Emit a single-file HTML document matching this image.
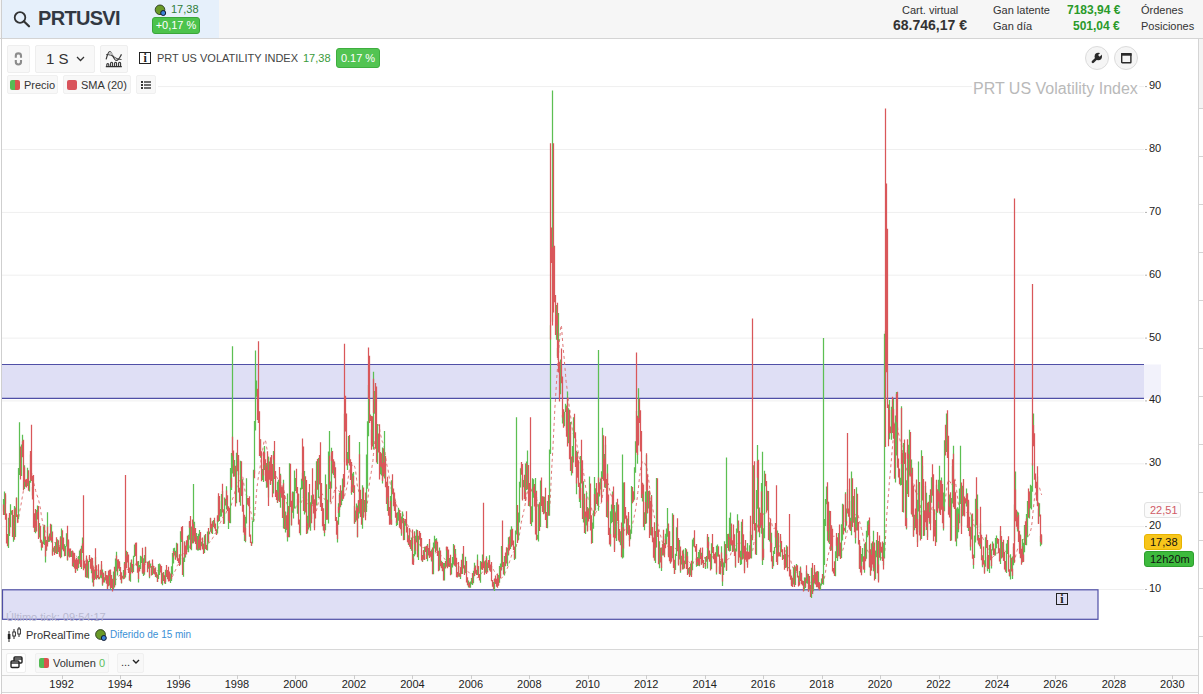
<!DOCTYPE html>
<html><head><meta charset="utf-8">
<style>
*{box-sizing:border-box;margin:0;padding:0}
html,body{width:1203px;height:694px;overflow:hidden;background:#fff;font-family:"Liberation Sans",sans-serif;color:#333}
.abs{position:absolute}
#hdr{position:absolute;left:0;top:0;width:1203px;height:39px;background:#f6f6f6;border-bottom:1px solid #d4d4d4}
#sym{position:absolute;left:2px;top:0;width:217px;height:38px;background:#e6f0fb}
.t{position:absolute;white-space:nowrap;line-height:1}
.btn{position:absolute;background:#f8f8f8;border:1px solid #eeeeee;border-radius:2px}
.chip{position:absolute;background:#f8f8f8;border:1px solid #f0f0f0;border-radius:2px}
.yl{position:absolute;left:1149px;font-size:11px;color:#222;line-height:14px}
.xl{position:absolute;top:677px;width:40px;text-align:center;font-size:11px;color:#222;line-height:14px}
.xt{position:absolute;top:675px;width:1px;height:4px;background:#ccc}
.circ{position:absolute;width:24px;height:24px;border-radius:50%;background:#f5f5f5;border:1px solid #dcdcdc}
.tag{position:absolute;left:1144px;height:16px;border-radius:3px;font-size:11px;line-height:15px;padding-left:5px;color:#111}
</style></head><body>
<div id="hdr"></div>
<div id="sym"></div>
<!-- search icon -->
<svg class="abs" style="left:12px;top:10px" width="20" height="18" viewBox="0 0 20 18"><circle cx="8" cy="7.5" r="5.3" fill="none" stroke="#333" stroke-width="1.8"/><line x1="11.8" y1="11.3" x2="17" y2="16.3" stroke="#333" stroke-width="2.2" stroke-linecap="round"/></svg>
<div class="t" style="left:38px;top:8px;font-size:20px;font-weight:bold;color:#323842;letter-spacing:-0.7px">PRTUSVI</div>
<svg class="abs" style="left:154px;top:3px" width="14" height="14"><circle cx="6" cy="6.8" r="4.8" fill="#6a9a28" stroke="#2a3a20" stroke-width="0.9"/><circle cx="9.2" cy="10" r="2.5" fill="#3b82d6" stroke="#111a30" stroke-width="1"/></svg>
<div class="t" style="left:171px;top:4px;font-size:11px;color:#2f7d3a">17,38</div>
<div class="abs" style="left:152px;top:17px;width:48px;height:17px;background:#4cc34c;border:1px solid #3aa63a;border-radius:3px;color:#fff;font-size:11px;line-height:15px;text-align:center">+0,17 %</div>

<div class="t" style="left:902px;top:5px;font-size:11px;color:#333">Cart. virtual</div>
<div class="t" style="left:893px;top:18px;font-size:14px;font-weight:bold;color:#333">68.746,17 €</div>
<div class="t" style="left:993px;top:5px;font-size:11px;color:#333">Gan latente</div>
<div class="t" style="left:993px;top:21px;font-size:11px;color:#333">Gan día</div>
<div class="t" style="left:1067px;top:4px;font-size:12px;font-weight:bold;color:#2a9a2a">7183,94 €</div>
<div class="t" style="left:1073px;top:20px;font-size:12px;font-weight:bold;color:#2a9a2a">501,04 €</div>
<div class="t" style="left:1141px;top:5px;font-size:11px;color:#333">Órdenes</div>
<div class="t" style="left:1141px;top:21px;font-size:11px;color:#333">Posiciones</div>

<!-- left border -->
<div class="abs" style="left:1px;top:0px;width:1px;height:694px;background:#cfcfcf"></div>
<!-- right border -->
<div class="abs" style="left:1198px;top:39px;width:1px;height:655px;background:#d4d4d4"></div>
<div class="abs" style="left:1199px;top:39px;width:4px;height:69px;background:#f4f4f4"></div><div class="abs" style="left:1199px;top:108px;width:4px;height:1px;background:#d4d4d4"></div><div class="abs" style="left:1199px;top:156px;width:4px;height:1px;background:#d4d4d4"></div><div class="abs" style="left:1199px;top:204px;width:4px;height:1px;background:#d4d4d4"></div><div class="abs" style="left:1199px;top:252px;width:4px;height:1px;background:#d4d4d4"></div><div class="abs" style="left:1199px;top:300px;width:4px;height:1px;background:#d4d4d4"></div><div class="abs" style="left:1199px;top:348px;width:4px;height:1px;background:#d4d4d4"></div><div class="abs" style="left:1199px;top:396px;width:4px;height:1px;background:#d4d4d4"></div><div class="abs" style="left:1199px;top:444px;width:4px;height:1px;background:#d4d4d4"></div><div class="abs" style="left:1199px;top:492px;width:4px;height:1px;background:#d4d4d4"></div><div class="abs" style="left:1199px;top:540px;width:4px;height:1px;background:#d4d4d4"></div><div class="abs" style="left:1199px;top:588px;width:4px;height:1px;background:#d4d4d4"></div><div class="abs" style="left:1199px;top:636px;width:4px;height:1px;background:#d4d4d4"></div>

<!-- chart svg -->
<svg class="abs" style="left:0;top:0" width="1203" height="694">
<line x1="2" x2="1144" y1="589.5" y2="589.5" stroke="#efefef" stroke-width="1"/><line x1="2" x2="1144" y1="526.6" y2="526.6" stroke="#efefef" stroke-width="1"/><line x1="2" x2="1144" y1="463.8" y2="463.8" stroke="#efefef" stroke-width="1"/><line x1="2" x2="1144" y1="400.9" y2="400.9" stroke="#efefef" stroke-width="1"/><line x1="2" x2="1144" y1="338.1" y2="338.1" stroke="#efefef" stroke-width="1"/><line x1="2" x2="1144" y1="275.2" y2="275.2" stroke="#efefef" stroke-width="1"/><line x1="2" x2="1144" y1="212.4" y2="212.4" stroke="#efefef" stroke-width="1"/><line x1="2" x2="1144" y1="149.5" y2="149.5" stroke="#efefef" stroke-width="1"/><line x1="2" x2="1144" y1="86.6" y2="86.6" stroke="#efefef" stroke-width="1"/>
<line x1="1145" x2="1147" y1="589.5" y2="589.5" stroke="#b0b0b0" stroke-width="1"/><line x1="1145" x2="1147" y1="526.6" y2="526.6" stroke="#b0b0b0" stroke-width="1"/><line x1="1145" x2="1147" y1="463.8" y2="463.8" stroke="#b0b0b0" stroke-width="1"/><line x1="1145" x2="1147" y1="400.9" y2="400.9" stroke="#b0b0b0" stroke-width="1"/><line x1="1145" x2="1147" y1="338.1" y2="338.1" stroke="#b0b0b0" stroke-width="1"/><line x1="1145" x2="1147" y1="275.2" y2="275.2" stroke="#b0b0b0" stroke-width="1"/><line x1="1145" x2="1147" y1="212.4" y2="212.4" stroke="#b0b0b0" stroke-width="1"/><line x1="1145" x2="1147" y1="149.5" y2="149.5" stroke="#b0b0b0" stroke-width="1"/><line x1="1145" x2="1147" y1="86.6" y2="86.6" stroke="#b0b0b0" stroke-width="1"/>
<rect x="2" y="364.5" width="1142" height="34" fill="#dfdff5"/>
<rect x="1144" y="364.5" width="17" height="34" fill="#f2f2fb"/>
<line x1="2" x2="1144" y1="364.5" y2="364.5" stroke="#4f4fa6" stroke-width="1.2"/>
<line x1="2" x2="1144" y1="398.3" y2="398.3" stroke="#4f4fa6" stroke-width="1.2"/>
<rect x="2.5" y="589.8" width="1095.5" height="29.5" fill="#dfdff5" stroke="#4f4fa6" stroke-width="1.2"/>
<polyline points="13.8,522.1 14.3,522.1 14.9,523.1 15.5,523.5 16.0,523.6 16.6,524.5 17.1,524.5 17.7,523.5 18.3,520.4 18.8,516.9 19.4,513.4 19.9,510.3 20.5,507.3 21.1,504.3 21.6,501.2 22.2,497.8 22.7,494.7 23.3,491.5 23.9,489.1 24.4,486.3 25.0,484.3 25.5,483.0 26.1,480.5 26.7,478.9 27.2,478.0 27.8,475.9 28.3,474.2 28.9,472.6 29.5,472.5 30.0,471.7 30.6,472.4 31.1,473.0 31.7,473.2 32.3,474.6 32.8,476.6 33.4,479.6 33.9,483.3 34.5,486.5 35.1,487.9 35.6,490.5 36.2,492.8 36.8,494.4 37.3,496.0 37.9,497.4 38.4,498.9 39.0,501.9 39.6,504.3 40.1,507.0 40.7,510.0 41.2,514.4 41.8,517.7 42.4,521.2 42.9,524.4 43.5,526.5 44.0,528.2 44.6,530.0 45.2,531.6 45.7,532.1 46.3,533.9 46.8,534.9 47.4,534.9 48.0,536.3 48.5,537.3 49.1,538.8 49.6,539.9 50.2,540.0 50.8,540.4 51.3,540.3 51.9,539.9 52.4,540.2 53.0,540.6 53.6,540.8 54.1,541.1 54.7,542.0 55.2,543.1 55.8,543.5 56.4,543.2 56.9,543.7 57.5,543.3 58.0,543.6 58.6,544.8 59.2,545.4 59.7,545.9 60.3,546.1 60.8,547.2 61.4,548.0 62.0,547.9 62.5,548.3 63.1,548.9 63.6,548.8 64.2,548.7 64.8,549.1 65.3,549.0 65.9,548.7 66.4,547.9 67.0,548.5 67.6,548.7 68.1,548.2 68.7,548.6 69.2,548.9 69.8,549.1 70.4,549.1 70.9,549.4 71.5,549.8 72.0,550.1 72.6,550.8 73.2,551.8 73.7,552.5 74.3,553.5 74.8,554.1 75.4,555.1 76.0,555.4 76.5,556.5 77.1,557.4 77.6,559.1 78.2,559.2 78.8,559.7 79.3,560.3 79.9,560.4 80.4,560.9 81.0,561.5 81.6,561.2 82.1,560.9 82.7,560.7 83.2,560.0 83.8,560.0 84.4,560.2 84.9,560.5 85.5,560.9 86.0,561.0 86.6,560.7 87.2,560.8 87.7,561.2 88.3,561.7 88.8,561.3 89.4,561.2 90.0,561.0 90.5,561.5 91.1,562.4 91.6,562.6 92.2,563.1 92.8,564.2 93.3,565.9 93.9,567.1 94.4,568.6 95.0,568.3 95.6,568.6 96.1,569.1 96.7,569.2 97.2,569.9 97.8,570.5 98.4,571.0 98.9,571.0 99.5,571.2 100.1,571.7 100.6,572.6 101.2,573.0 101.7,573.3 102.3,574.0 102.9,574.3 103.4,574.5 104.0,575.0 104.5,574.8 105.1,574.8 105.7,574.8 106.2,576.1 106.8,576.5 107.3,577.2 107.9,577.2 108.5,577.6 109.0,577.4 109.6,577.3 110.1,577.8 110.7,577.9 111.3,578.4 111.8,579.0 112.4,579.9 112.9,580.6 113.5,580.0 114.1,580.5 114.6,580.7 115.2,580.7 115.7,580.3 116.3,579.4 116.9,578.5 117.4,577.9 118.0,577.3 118.5,576.3 119.1,576.0 119.7,575.1 120.2,575.0 120.8,575.2 121.3,575.0 121.9,574.8 122.5,574.6 123.0,574.1 123.6,573.6 124.1,572.6 124.7,572.9 125.3,572.3 125.8,571.1 126.4,570.3 126.9,569.4 127.5,569.6 128.1,569.5 128.6,569.6 129.2,570.2 129.7,570.8 130.3,570.9 130.9,571.1 131.4,570.8 132.0,570.3 132.5,569.8 133.1,569.0 133.7,568.0 134.2,566.6 134.8,565.4 135.3,564.7 135.9,563.5 136.5,563.1 137.0,563.1 137.6,563.6 138.1,564.9 138.7,565.4 139.3,566.0 139.8,565.8 140.4,565.1 140.9,564.2 141.5,563.6 142.1,563.5 142.6,563.7 143.2,564.0 143.7,563.8 144.3,564.4 144.9,564.5 145.4,564.5 146.0,565.2 146.5,565.6 147.1,566.2 147.7,566.3 148.2,566.4 148.8,566.1 149.3,566.0 149.9,565.9 150.5,565.7 151.0,565.8 151.6,566.3 152.1,566.3 152.7,566.8 153.3,566.8 153.8,566.9 154.4,566.9 154.9,567.0 155.5,567.3 156.1,568.0 156.6,569.3 157.2,570.3 157.7,571.1 158.3,571.6 158.9,571.8 159.4,571.9 160.0,571.9 160.5,571.7 161.1,572.1 161.7,573.0 162.2,573.5 162.8,573.5 163.4,574.3 163.9,574.8 164.5,575.3 165.0,575.9 165.6,575.9 166.2,576.2 166.7,575.9 167.3,576.0 167.8,575.8 168.4,575.4 169.0,575.5 169.5,575.9 170.1,576.0 170.6,576.4 171.2,577.1 171.8,577.1 172.3,576.7 172.9,575.7 173.4,574.2 174.0,573.2 174.6,571.9 175.1,570.9 175.7,569.7 176.2,568.2 176.8,566.7 177.4,565.4 177.9,564.9 178.5,564.1 179.0,563.3 179.6,562.8 180.2,561.0 180.7,558.8 181.3,556.9 181.8,554.8 182.4,554.1 183.0,554.1 183.5,553.7 184.1,552.9 184.6,552.9 185.2,552.8 185.8,552.6 186.3,551.8 186.9,551.4 187.4,551.1 188.0,551.0 188.6,550.4 189.1,548.6 189.7,546.8 190.2,545.4 190.8,544.6 191.4,544.1 191.9,543.7 192.5,543.8 193.0,543.7 193.6,542.1 194.2,540.5 194.7,539.0 195.3,538.2 195.8,537.8 196.4,537.1 197.0,536.9 197.5,536.8 198.1,536.8 198.6,536.6 199.2,536.8 199.8,536.5 200.3,537.5 200.9,538.5 201.4,539.4 202.0,539.2 202.6,539.8 203.1,540.6 203.7,541.2 204.2,541.9 204.8,542.3 205.4,542.5 205.9,543.4 206.5,544.3 207.0,544.4 207.6,544.1 208.2,543.8 208.7,543.5 209.3,542.7 209.8,542.3 210.4,541.0 211.0,540.8 211.5,540.1 212.1,539.1 212.6,538.2 213.2,537.2 213.8,536.0 214.3,535.1 214.9,533.7 215.4,533.0 216.0,532.7 216.6,532.1 217.1,530.7 217.7,529.3 218.2,527.1 218.8,526.5 219.4,524.6 219.9,523.5 220.5,522.5 221.0,521.4 221.6,520.1 222.2,518.4 222.7,517.4 223.3,517.0 223.8,516.9 224.4,516.5 225.0,515.5 225.5,514.5 226.1,512.9 226.7,511.1 227.2,509.8 227.8,508.7 228.3,508.8 228.9,508.5 229.5,509.6 230.0,508.5 230.6,507.2 231.1,505.9 231.7,503.6 232.3,500.2 232.8,498.1 233.4,497.2 233.9,495.4 234.5,493.3 235.1,490.9 235.6,490.2 236.2,489.3 236.7,487.3 237.3,485.6 237.9,484.3 238.4,482.1 239.0,481.1 239.5,480.1 240.1,479.3 240.7,476.3 241.2,474.6 241.8,475.4 242.3,475.3 242.9,477.5 243.5,481.6 244.0,485.6 244.6,488.3 245.1,491.4 245.7,493.9 246.3,495.4 246.8,495.3 247.4,496.1 247.9,498.0 248.5,500.2 249.1,503.2 249.6,506.7 250.2,509.2 250.7,511.3 251.3,513.5 251.9,517.5 252.4,521.0 253.0,522.3 253.5,521.7 254.1,519.9 254.7,515.1 255.2,508.7 255.8,502.0 256.3,494.7 256.9,488.2 257.5,483.6 258.0,479.6 258.6,475.5 259.1,472.7 259.7,470.2 260.3,465.7 260.8,461.7 261.4,457.8 261.9,454.6 262.5,451.2 263.1,447.4 263.6,444.2 264.2,440.8 264.7,440.2 265.3,440.0 265.9,442.3 266.4,445.8 267.0,449.2 267.5,453.6 268.1,458.9 268.7,461.9 269.2,464.1 269.8,466.9 270.3,468.7 270.9,468.9 271.5,470.8 272.0,472.1 272.6,473.6 273.1,472.5 273.7,471.6 274.3,471.6 274.8,472.1 275.4,473.6 275.9,475.2 276.5,476.7 277.1,477.8 277.6,478.9 278.2,480.1 278.7,480.2 279.3,479.5 279.9,480.8 280.4,481.8 281.0,482.6 281.5,483.3 282.1,485.9 282.7,487.9 283.2,488.5 283.8,488.7 284.3,491.6 284.9,495.1 285.5,497.6 286.0,500.1 286.6,501.9 287.1,504.1 287.7,505.1 288.3,506.4 288.8,508.3 289.4,507.4 290.0,506.8 290.5,507.7 291.1,508.6 291.6,509.7 292.2,509.9 292.8,510.7 293.3,510.5 293.9,510.0 294.4,510.5 295.0,510.0 295.6,508.5 296.1,506.4 296.7,505.1 297.2,503.9 297.8,502.9 298.4,500.9 298.9,501.2 299.5,501.5 300.0,500.6 300.6,501.6 301.2,502.5 301.7,501.5 302.3,499.6 302.8,498.1 303.4,496.7 304.0,496.6 304.5,495.2 305.1,495.4 305.6,495.7 306.2,497.7 306.8,500.0 307.3,501.9 307.9,503.8 308.4,504.6 309.0,504.5 309.6,506.0 310.1,505.6 310.7,504.4 311.2,504.4 311.8,504.8 312.4,505.3 312.9,506.1 313.5,507.6 314.0,509.8 314.6,511.6 315.2,510.8 315.7,512.1 316.3,511.1 316.8,509.1 317.4,506.2 318.0,504.0 318.5,501.4 319.1,499.0 319.6,496.5 320.2,495.7 320.8,494.2 321.3,493.6 321.9,493.6 322.4,493.9 323.0,495.6 323.6,497.0 324.1,498.5 324.7,499.5 325.2,498.7 325.8,497.9 326.4,499.0 326.9,498.9 327.5,500.0 328.0,501.2 328.6,501.6 329.2,501.5 329.7,502.2 330.3,503.2 330.8,504.1 331.4,502.7 332.0,501.0 332.5,499.4 333.1,497.2 333.6,494.4 334.2,491.6 334.8,488.9 335.3,487.1 335.9,486.6 336.4,487.8 337.0,490.3 337.6,490.6 338.1,491.0 338.7,490.7 339.2,491.1 339.8,492.4 340.4,493.2 340.9,493.9 341.5,493.4 342.0,494.0 342.6,495.2 343.2,497.0 343.7,497.6 344.3,497.5 344.8,495.0 345.4,492.4 346.0,490.2 346.5,488.9 347.1,485.9 347.6,482.5 348.2,478.2 348.8,473.9 349.3,470.5 349.9,468.0 350.4,466.9 351.0,466.3 351.6,465.8 352.1,465.1 352.7,465.1 353.3,464.3 353.8,464.5 354.4,465.9 354.9,467.6 355.5,470.2 356.1,475.2 356.6,479.6 357.2,484.9 357.7,487.3 358.3,489.4 358.9,491.9 359.4,492.6 360.0,495.8 360.5,499.3 361.1,502.0 361.7,504.5 362.2,505.3 362.8,505.4 363.3,507.0 363.9,508.0 364.5,509.0 365.0,510.4 365.6,509.8 366.1,508.8 366.7,506.9 367.3,503.8 367.8,500.2 368.4,493.3 368.9,486.9 369.5,482.7 370.1,478.1 370.6,475.8 371.2,472.8 371.7,468.9 372.3,464.9 372.9,460.8 373.4,454.8 374.0,450.6 374.5,444.4 375.1,439.3 375.7,436.4 376.2,432.4 376.8,430.0 377.3,427.3 377.9,425.3 378.5,424.8 379.0,425.4 379.6,429.0 380.1,432.9 380.7,435.2 381.3,437.6 381.8,439.9 382.4,441.8 382.9,442.6 383.5,444.6 384.1,446.0 384.6,450.3 385.2,453.2 385.7,457.8 386.3,462.1 386.9,465.0 387.4,467.6 388.0,469.4 388.5,472.7 389.1,476.7 389.7,480.2 390.2,483.4 390.8,485.9 391.3,488.9 391.9,489.9 392.5,491.1 393.0,492.7 393.6,493.7 394.1,496.4 394.7,497.7 395.3,499.7 395.8,501.7 396.4,504.4 396.9,506.3 397.5,507.5 398.1,508.1 398.6,509.3 399.2,510.2 399.7,510.9 400.3,511.0 400.9,511.4 401.4,512.6 402.0,512.7 402.5,512.5 403.1,514.4 403.7,516.8 404.2,518.7 404.8,520.0 405.3,520.7 405.9,521.6 406.5,522.7 407.0,523.8 407.6,524.7 408.1,525.8 408.7,526.6 409.3,527.4 409.8,529.1 410.4,530.6 410.9,531.6 411.5,532.8 412.1,534.2 412.6,535.6 413.2,537.6 413.7,539.4 414.3,539.9 414.9,540.0 415.4,540.8 416.0,541.6 416.6,542.5 417.1,543.7 417.7,544.8 418.2,545.5 418.8,545.3 419.4,544.8 419.9,544.9 420.5,545.5 421.0,545.8 421.6,546.3 422.2,546.9 422.7,547.7 423.3,547.6 423.8,547.4 424.4,547.2 425.0,546.9 425.5,547.9 426.1,548.4 426.6,548.8 427.2,549.1 427.8,549.7 428.3,550.1 428.9,550.1 429.4,549.9 430.0,550.6 430.6,551.9 431.1,552.9 431.7,553.3 432.2,554.2 432.8,555.0 433.4,555.1 433.9,554.4 434.5,554.2 435.0,553.4 435.6,552.9 436.2,552.6 436.7,552.2 437.3,552.1 437.8,551.9 438.4,552.8 439.0,553.8 439.5,553.7 440.1,554.0 440.6,555.1 441.2,555.8 441.8,556.3 442.3,556.8 442.9,557.8 443.4,557.9 444.0,558.2 444.6,558.6 445.1,559.5 445.7,560.5 446.2,560.8 446.8,560.8 447.4,561.9 447.9,562.8 448.5,563.5 449.0,564.1 449.6,564.2 450.2,564.2 450.7,565.3 451.3,565.6 451.8,565.6 452.4,565.5 453.0,565.4 453.5,564.4 454.1,563.4 454.6,563.3 455.2,562.2 455.8,562.0 456.3,562.1 456.9,562.6 457.4,564.0 458.0,565.2 458.6,565.7 459.1,566.5 459.7,566.9 460.2,567.4 460.8,567.8 461.4,568.0 461.9,568.0 462.5,567.2 463.0,566.7 463.6,566.8 464.2,567.1 464.7,568.1 465.3,568.7 465.8,568.5 466.4,569.5 467.0,570.3 467.5,571.2 468.1,571.8 468.6,572.1 469.2,572.7 469.8,573.3 470.3,573.8 470.9,574.3 471.4,574.6 472.0,574.9 472.6,575.3 473.1,575.3 473.7,576.3 474.2,577.3 474.8,577.4 475.4,577.4 475.9,577.4 476.5,578.0 477.0,578.0 477.6,577.5 478.2,577.2 478.7,576.8 479.3,576.4 479.9,576.2 480.4,575.5 481.0,574.3 481.5,573.3 482.1,572.5 482.7,571.4 483.2,570.7 483.8,570.0 484.3,569.6 484.9,569.5 485.5,568.9 486.0,568.4 486.6,568.5 487.1,568.5 487.7,568.0 488.3,568.1 488.8,567.9 489.4,567.3 489.9,566.9 490.5,566.5 491.1,565.9 491.6,566.3 492.2,567.3 492.7,568.3 493.3,569.2 493.9,570.5 494.4,571.4 495.0,572.1 495.5,572.9 496.1,573.5 496.7,574.4 497.2,575.3 497.8,576.0 498.3,576.4 498.9,577.3 499.5,577.6 500.0,578.2 500.6,578.6 501.1,578.5 501.7,577.8 502.3,577.5 502.8,576.8 503.4,576.1 503.9,575.5 504.5,574.2 505.1,572.8 505.6,571.8 506.2,570.7 506.7,569.7 507.3,568.3 507.9,566.9 508.4,565.5 509.0,563.4 509.5,561.8 510.1,560.1 510.7,558.3 511.2,556.7 511.8,554.9 512.3,553.3 512.9,552.6 513.5,551.9 514.0,551.5 514.6,550.7 515.1,549.6 515.7,548.4 516.3,546.2 516.8,543.7 517.4,542.0 517.9,540.8 518.5,539.2 519.1,536.9 519.6,533.5 520.2,530.5 520.7,526.6 521.3,522.7 521.9,519.6 522.4,517.2 523.0,515.0 523.5,512.4 524.1,509.6 524.7,506.9 525.2,504.0 525.8,500.5 526.3,496.4 526.9,494.0 527.5,491.7 528.0,490.8 528.6,489.9 529.1,487.6 529.7,486.6 530.3,485.9 530.8,487.9 531.4,490.0 531.9,492.3 532.5,493.5 533.1,494.5 533.6,494.2 534.2,494.8 534.7,495.9 535.3,496.5 535.9,498.3 536.4,498.2 537.0,501.0 537.5,504.4 538.1,507.1 538.7,509.3 539.2,510.0 539.8,511.0 540.3,511.5 540.9,510.8 541.5,511.4 542.0,510.6 542.6,509.6 543.1,509.1 543.7,510.0 544.3,510.7 544.8,511.1 545.4,511.6 546.0,512.1 546.5,513.6 547.1,513.1 547.6,513.4 548.2,512.1 548.8,510.9 549.3,508.6 549.9,505.7 550.4,497.0 551.0,483.0 551.6,470.8 552.1,462.1 552.7,451.9 553.2,442.0 553.8,430.0 554.4,418.3 554.9,407.7 555.5,399.0 556.0,389.9 556.6,380.5 557.2,372.4 557.7,363.6 558.3,355.0 558.8,348.3 559.4,341.8 560.0,335.5 560.5,329.2 561.1,325.1 561.6,327.4 562.2,336.0 562.8,343.9 563.3,349.2 563.9,355.5 564.4,360.9 565.0,368.3 565.6,375.2 566.1,381.7 566.7,385.8 567.2,390.0 567.8,396.0 568.4,400.1 568.9,403.6 569.5,408.7 570.0,411.7 570.6,416.1 571.2,420.0 571.7,424.5 572.3,429.3 572.8,432.8 573.4,434.3 574.0,434.9 574.5,435.7 575.1,436.5 575.6,438.9 576.2,442.4 576.8,444.6 577.3,446.7 577.9,449.6 578.4,453.8 579.0,456.6 579.6,459.4 580.1,463.3 580.7,463.5 581.2,466.0 581.8,466.3 582.4,467.5 582.9,470.4 583.5,472.2 584.0,475.3 584.6,479.5 585.2,483.7 585.7,487.8 586.3,491.0 586.8,493.5 587.4,495.5 588.0,498.3 588.5,500.6 589.1,502.1 589.6,502.2 590.2,503.4 590.8,505.0 591.3,506.1 591.9,510.4 592.4,512.8 593.0,514.9 593.6,515.9 594.1,514.9 594.7,515.1 595.2,514.4 595.8,512.6 596.4,511.7 596.9,510.8 597.5,510.9 598.0,509.1 598.6,507.5 599.2,506.7 599.7,505.0 600.3,504.1 600.8,503.9 601.4,502.4 602.0,500.0 602.5,496.2 603.1,492.5 603.6,490.1 604.2,487.4 604.8,486.2 605.3,484.0 605.9,482.6 606.4,483.4 607.0,482.4 607.6,482.7 608.1,483.6 608.7,485.0 609.3,488.1 609.8,490.6 610.4,493.0 610.9,494.8 611.5,496.4 612.1,497.1 612.6,498.1 613.2,500.4 613.7,504.9 614.3,509.0 614.9,511.1 615.4,514.1 616.0,516.4 616.5,519.0 617.1,520.5 617.7,520.5 618.2,523.3 618.8,524.9 619.3,526.0 619.9,526.2 620.5,526.1 621.0,526.0 621.6,526.6 622.1,527.9 622.7,528.9 623.3,531.4 623.8,530.8 624.4,530.6 624.9,529.3 625.5,527.7 626.1,528.1 626.6,528.3 627.2,527.7 627.7,528.4 628.3,528.7 628.9,529.6 629.4,530.0 630.0,530.4 630.5,530.0 631.1,529.3 631.7,527.6 632.2,525.5 632.8,522.7 633.3,520.4 633.9,518.4 634.5,514.7 635.0,512.9 635.6,509.4 636.1,506.3 636.7,501.4 637.3,497.6 637.8,492.6 638.4,488.3 638.9,482.7 639.5,477.7 640.1,473.0 640.6,468.3 641.2,465.7 641.7,463.8 642.3,461.8 642.9,461.2 643.4,461.2 644.0,462.6 644.5,463.2 645.1,463.5 645.7,466.1 646.2,466.1 646.8,467.9 647.3,471.1 647.9,475.5 648.5,478.4 649.0,482.6 649.6,487.2 650.1,492.5 650.7,497.3 651.3,500.5 651.8,504.9 652.4,507.1 652.9,509.3 653.5,512.7 654.1,515.0 654.6,518.1 655.2,519.0 655.7,520.7 656.3,521.3 656.9,519.5 657.4,522.8 658.0,525.1 658.5,527.6 659.1,530.0 659.7,532.2 660.2,534.4 660.8,536.0 661.3,538.6 661.9,540.3 662.5,542.8 663.0,543.0 663.6,544.1 664.1,544.8 664.7,544.4 665.3,544.7 665.8,543.9 666.4,543.8 666.9,543.0 667.5,543.5 668.1,546.7 668.6,547.5 669.2,547.8 669.7,547.4 670.3,547.5 670.9,547.5 671.4,547.6 672.0,547.4 672.6,545.6 673.1,545.1 673.7,545.4 674.2,547.3 674.8,548.1 675.4,548.4 675.9,549.0 676.5,548.6 677.0,548.8 677.6,548.9 678.2,550.4 678.7,552.0 679.3,552.0 679.8,552.3 680.4,553.8 681.0,554.3 681.5,554.3 682.1,554.9 682.6,555.3 683.2,555.4 683.8,557.0 684.3,558.2 684.9,558.2 685.4,557.5 686.0,556.8 686.6,557.2 687.1,557.2 687.7,559.1 688.2,560.2 688.8,561.5 689.4,562.1 689.9,562.9 690.5,563.7 691.0,565.0 691.6,565.0 692.2,564.6 692.7,564.0 693.3,563.0 693.8,561.4 694.4,560.4 695.0,559.7 695.5,559.1 696.1,559.3 696.6,559.5 697.2,559.8 697.8,559.5 698.3,559.7 698.9,559.2 699.4,558.9 700.0,558.1 700.6,557.3 701.1,556.8 701.7,556.1 702.2,555.3 702.8,554.9 703.4,555.5 703.9,556.5 704.5,557.5 705.0,558.9 705.6,559.8 706.2,560.4 706.7,561.0 707.3,559.7 707.8,558.8 708.4,557.9 709.0,557.7 709.5,557.7 710.1,557.7 710.6,557.8 711.2,558.4 711.8,557.8 712.3,556.8 712.9,556.7 713.4,556.7 714.0,556.7 714.6,556.5 715.1,556.3 715.7,556.2 716.2,556.6 716.8,556.4 717.4,556.0 717.9,555.5 718.5,556.3 719.0,557.5 719.6,558.7 720.2,559.5 720.7,559.8 721.3,559.2 721.8,558.9 722.4,559.7 723.0,561.1 723.5,562.2 724.1,562.7 724.6,562.1 725.2,561.9 725.8,561.8 726.3,562.3 726.9,561.5 727.4,559.6 728.0,559.2 728.6,558.9 729.1,558.3 729.7,557.5 730.2,556.0 730.8,554.0 731.4,552.0 731.9,551.0 732.5,550.8 733.0,549.5 733.6,547.6 734.2,546.5 734.7,545.9 735.3,545.8 735.9,545.9 736.4,544.8 737.0,543.5 737.5,541.1 738.1,541.8 738.7,541.9 739.2,541.9 739.8,542.5 740.3,543.5 740.9,544.4 741.5,543.4 742.0,544.5 742.6,545.6 743.1,545.9 743.7,546.2 744.3,547.9 744.8,548.5 745.4,548.6 745.9,548.7 746.5,548.8 747.1,549.5 747.6,550.5 748.2,551.7 748.7,553.4 749.3,553.1 749.9,553.5 750.4,552.9 751.0,552.8 751.5,551.8 752.1,550.6 752.7,550.6 753.2,547.5 753.8,543.4 754.3,540.8 754.9,539.5 755.5,538.6 756.0,536.2 756.6,533.7 757.1,529.5 757.7,525.1 758.3,520.8 758.8,519.5 759.4,518.1 759.9,516.3 760.5,514.7 761.1,512.4 761.6,511.9 762.2,512.0 762.7,512.6 763.3,513.7 763.9,514.6 764.4,515.3 765.0,515.7 765.5,515.0 766.1,513.0 766.7,510.7 767.2,510.5 767.8,510.1 768.3,512.4 768.9,515.6 769.5,517.9 770.0,518.8 770.6,519.9 771.1,521.2 771.7,523.0 772.3,526.3 772.8,528.4 773.4,528.5 773.9,528.6 774.5,528.2 775.1,528.0 775.6,529.6 776.2,532.5 776.7,536.3 777.3,540.0 777.9,541.8 778.4,543.8 779.0,546.9 779.5,548.7 780.1,548.7 780.7,549.6 781.2,549.8 781.8,549.7 782.3,550.2 782.9,550.2 783.5,549.6 784.0,549.6 784.6,549.5 785.1,550.2 785.7,551.1 786.3,552.7 786.8,553.4 787.4,554.4 787.9,554.8 788.5,555.2 789.1,556.9 789.6,558.4 790.2,559.3 790.7,560.4 791.3,562.7 791.9,564.6 792.4,566.4 793.0,568.0 793.5,568.6 794.1,569.3 794.7,570.7 795.2,571.5 795.8,572.0 796.3,572.2 796.9,572.3 797.5,572.9 798.0,574.7 798.6,575.8 799.2,576.6 799.7,576.8 800.3,576.7 800.8,576.9 801.4,577.0 802.0,577.2 802.5,577.3 803.1,577.9 803.6,578.1 804.2,578.0 804.8,578.6 805.3,579.4 805.9,579.2 806.4,578.8 807.0,579.4 807.6,579.8 808.1,580.9 808.7,581.2 809.2,581.5 809.8,581.7 810.4,582.1 810.9,583.3 811.5,583.4 812.0,584.0 812.6,584.8 813.2,584.6 813.7,584.5 814.3,583.5 814.8,582.8 815.4,583.0 816.0,582.8 816.5,582.8 817.1,582.6 817.6,583.4 818.2,583.8 818.8,584.1 819.3,583.9 819.9,584.3 820.4,584.2 821.0,584.1 821.6,583.6 822.1,582.7 822.7,583.2 823.2,582.0 823.8,580.7 824.4,578.4 824.9,575.5 825.5,572.2 826.0,568.4 826.6,563.7 827.2,561.3 827.7,557.4 828.3,554.9 828.8,552.6 829.4,550.0 830.0,546.5 830.5,544.5 831.1,541.5 831.6,538.9 832.2,537.6 832.8,536.9 833.3,536.5 833.9,536.0 834.4,536.2 835.0,536.5 835.6,537.6 836.1,538.4 836.7,540.5 837.2,543.3 837.8,546.4 838.4,547.3 838.9,548.7 839.5,550.0 840.0,550.4 840.6,551.3 841.2,552.9 841.7,552.3 842.3,551.5 842.8,550.1 843.4,548.0 844.0,546.0 844.5,544.0 845.1,540.6 845.6,538.1 846.2,535.7 846.8,533.3 847.3,531.2 847.9,529.5 848.4,527.3 849.0,524.9 849.6,524.0 850.1,523.3 850.7,522.0 851.2,520.1 851.8,516.5 852.4,514.4 852.9,513.6 853.5,513.1 854.0,513.5 854.6,514.2 855.2,514.6 855.7,514.4 856.3,515.5 856.8,514.3 857.4,513.4 858.0,514.4 858.5,516.5 859.1,519.4 859.6,521.3 860.2,523.9 860.8,525.9 861.3,528.5 861.9,530.1 862.5,532.7 863.0,537.0 863.6,539.7 864.1,542.2 864.7,544.9 865.3,547.1 865.8,548.5 866.4,549.4 866.9,549.8 867.5,550.1 868.1,551.6 868.6,553.0 869.2,554.8 869.7,555.2 870.3,555.5 870.9,555.8 871.4,556.2 872.0,555.1 872.5,554.4 873.1,554.6 873.7,553.8 874.2,553.7 874.8,554.8 875.3,554.7 875.9,554.7 876.5,554.0 877.0,553.8 877.6,554.5 878.1,556.7 878.7,557.7 879.3,558.6 879.8,559.9 880.4,559.0 880.9,558.8 881.5,557.6 882.1,557.6 882.6,557.3 883.2,558.2 883.7,558.1 884.3,555.5 884.9,550.3 885.4,540.3 886.0,528.9 886.5,518.6 887.1,510.6 887.7,503.7 888.2,497.3 888.8,490.8 889.3,482.4 889.9,476.2 890.5,470.4 891.0,463.7 891.6,457.4 892.1,450.6 892.7,444.4 893.3,438.0 893.8,431.8 894.4,426.8 894.9,422.6 895.5,419.3 896.1,417.2 896.6,419.5 897.2,423.5 897.7,428.5 898.3,432.0 898.9,435.2 899.4,437.8 900.0,439.9 900.5,443.2 901.1,444.0 901.7,445.3 902.2,448.7 902.8,453.0 903.3,456.2 903.9,457.5 904.5,459.2 905.0,462.3 905.6,465.2 906.1,467.8 906.7,469.9 907.3,472.6 907.8,474.8 908.4,477.7 908.9,477.6 909.5,476.2 910.1,475.1 910.6,474.9 911.2,476.5 911.7,476.4 912.3,479.7 912.9,481.4 913.4,483.4 914.0,484.3 914.5,486.2 915.1,489.4 915.7,492.5 916.2,491.9 916.8,492.0 917.3,492.6 917.9,493.7 918.5,495.4 919.0,499.2 919.6,500.9 920.1,504.3 920.7,509.2 921.3,512.7 921.8,512.0 922.4,511.4 922.9,512.0 923.5,512.9 924.1,514.8 924.6,513.9 925.2,512.8 925.8,513.1 926.3,513.6 926.9,512.6 927.4,515.1 928.0,514.3 928.6,513.2 929.1,513.7 929.7,514.5 930.2,514.0 930.8,512.6 931.4,510.7 931.9,507.9 932.5,506.6 933.0,509.6 933.6,511.3 934.2,512.4 934.7,512.8 935.3,512.6 935.8,514.0 936.4,513.6 937.0,512.8 937.5,511.8 938.1,511.3 938.6,509.5 939.2,509.4 939.8,508.0 940.3,506.3 940.9,506.1 941.4,504.1 942.0,504.2 942.6,505.6 943.1,507.9 943.7,508.6 944.2,507.4 944.8,502.8 945.4,499.2 945.9,494.7 946.5,490.5 947.0,485.6 947.6,483.1 948.2,480.1 948.7,480.1 949.3,481.1 949.8,481.5 950.4,481.9 951.0,484.6 951.5,485.3 952.1,483.9 952.6,484.0 953.2,482.1 953.8,481.2 954.3,479.5 954.9,478.9 955.4,480.8 956.0,485.8 956.6,490.3 957.1,494.5 957.7,498.5 958.2,502.7 958.8,506.6 959.4,510.2 959.9,509.7 960.5,508.3 961.0,509.2 961.6,509.0 962.2,507.5 962.7,507.9 963.3,509.8 963.8,510.9 964.4,513.5 965.0,513.6 965.5,514.1 966.1,514.1 966.6,512.5 967.2,511.9 967.8,511.6 968.3,510.5 968.9,510.6 969.4,510.7 970.0,511.9 970.6,513.1 971.1,514.9 971.7,516.7 972.2,517.6 972.8,519.7 973.4,522.3 973.9,524.8 974.5,526.2 975.0,527.2 975.6,526.5 976.2,526.5 976.7,527.5 977.3,528.2 977.8,530.0 978.4,530.7 979.0,531.3 979.5,533.1 980.1,533.2 980.6,533.8 981.2,534.1 981.8,535.1 982.3,536.6 982.9,538.4 983.4,539.4 984.0,540.3 984.6,540.5 985.1,540.4 985.7,540.5 986.2,541.5 986.8,543.8 987.4,547.1 987.9,548.9 988.5,551.8 989.1,553.0 989.6,553.6 990.2,554.5 990.7,555.3 991.3,557.3 991.9,557.6 992.4,557.6 993.0,556.9 993.5,556.4 994.1,556.2 994.7,555.6 995.2,554.7 995.8,553.6 996.3,553.1 996.9,553.2 997.5,553.1 998.0,553.0 998.6,552.3 999.1,552.0 999.7,551.6 1000.3,550.4 1000.8,549.7 1001.4,549.5 1001.9,549.4 1002.5,548.3 1003.1,548.7 1003.6,548.9 1004.2,549.6 1004.7,550.3 1005.3,550.9 1005.9,551.8 1006.4,552.0 1007.0,552.2 1007.5,552.3 1008.1,553.6 1008.7,555.0 1009.2,556.6 1009.8,557.7 1010.3,558.8 1010.9,559.0 1011.5,560.8 1012.0,562.5 1012.6,563.1 1013.1,563.1 1013.7,563.8 1014.3,562.9 1014.8,560.8 1015.4,557.6 1015.9,554.8 1016.5,552.9 1017.1,550.5 1017.6,549.0 1018.2,547.3 1018.7,546.9 1019.3,545.8 1019.9,544.3 1020.4,543.4 1021.0,542.3 1021.5,541.6 1022.1,540.8 1022.7,540.2 1023.2,539.5 1023.8,538.9 1024.3,537.8 1024.9,536.2 1025.5,536.2 1026.0,537.0 1026.6,538.8 1027.1,538.5 1027.7,537.4 1028.3,536.6 1028.8,535.7 1029.4,534.7 1029.9,533.1 1030.5,531.2 1031.1,528.9 1031.6,525.7 1032.2,521.2 1032.7,515.2 1033.3,509.4 1033.9,503.5 1034.4,498.8 1035.0,495.2 1035.5,493.0 1036.1,491.5 1036.7,489.4 1037.2,487.3 1037.8,486.1 1038.3,486.8 1038.9,487.3 1039.5,487.7 1040.0,489.3 1040.6,491.5 1041.1,493.3 1041.7,494.9" fill="none" stroke="#e07878" stroke-width="1" stroke-dasharray="3,3"/>
<path d="M3.50 499.0V511.4M4.50 491.6V515.1M4.50 497.4V507.1M5.50 495.3V503.7M8.50 530.7V547.9M8.50 517.7V536.6M9.50 514.9V536.0M10.50 504.3V527.2M10.50 510.7V515.8M11.50 510.6V514.8M13.50 515.0V541.7M13.50 519.5V531.8M14.50 506.1V525.3M15.50 507.6V537.0M16.50 497.4V512.9M18.50 483.4V519.6M18.50 467.9V486.2M19.50 422.3V475.0M19.50 462.3V466.6M21.50 461.6V476.1M21.50 444.6V466.2M22.50 434.7V454.8M24.50 465.2V488.9M26.50 480.5V486.2M27.50 467.8V486.0M29.50 480.8V491.5M30.50 454.5V482.7M32.50 486.9V495.6M35.50 513.6V533.3M36.50 509.9V531.3M37.50 505.5V518.9M39.50 522.9V537.4M40.50 540.2V542.8M41.50 539.9V550.6M42.50 541.6V544.8M43.50 526.5V544.1M44.50 524.7V544.9M45.50 540.5V562.6M46.50 539.9V550.7M47.50 512.3V543.9M48.50 536.8V541.9M49.50 533.5V541.8M51.50 524.6V542.6M52.50 549.3V554.7M53.50 547.5V551.8M55.50 545.9V553.1M55.50 542.2V550.3M57.50 539.3V553.9M59.50 547.0V554.6M60.50 536.3V548.8M61.50 546.3V557.3M61.50 528.4V554.6M63.50 544.0V550.1M64.50 544.2V551.3M65.50 546.1V556.0M65.50 545.9V549.7M66.50 533.2V546.4M67.50 546.6V560.6M68.50 541.5V556.4M69.50 550.1V557.0M70.50 552.5V557.0M71.50 550.9V556.9M73.50 557.4V566.9M74.50 557.0V567.3M75.50 561.4V572.1M77.50 560.5V570.8M78.50 556.0V568.1M79.50 553.0V563.7M79.50 550.4V559.3M81.50 545.7V569.1M82.50 537.4V552.2M84.50 561.1V566.5M86.50 557.9V577.8M88.50 572.5V578.5M88.50 561.0V573.6M89.50 556.9V562.0M91.50 559.7V573.2M92.50 561.0V582.4M93.50 568.4V586.5M95.50 557.1V578.7M98.50 570.9V579.3M100.50 570.0V577.8M101.50 564.4V578.3M102.50 569.6V585.8M103.50 572.7V581.7M104.50 577.3V582.4M105.50 571.1V580.4M106.50 578.0V583.5M107.50 575.3V589.1M109.50 569.9V585.6M110.50 572.2V589.7M112.50 583.5V588.2M113.50 571.5V588.9M114.50 583.1V586.5M115.50 577.1V585.2M115.50 558.6V580.4M116.50 551.8V571.3M117.50 565.6V575.5M119.50 562.7V570.9M121.50 575.8V583.5M123.50 576.3V579.3M123.50 569.9V577.6M124.50 561.9V572.5M125.50 571.8V577.5M126.50 550.8V568.1M129.50 575.8V580.5M130.50 562.5V581.7M131.50 559.6V572.2M133.50 555.7V572.1M133.50 556.2V562.6M134.50 544.6V556.9M134.50 548.6V553.2M137.50 563.0V566.6M138.50 561.1V582.5M139.50 565.0V571.1M140.50 555.8V569.1M140.50 561.5V566.5M141.50 556.5V563.1M142.50 562.0V573.7M143.50 558.2V576.0M144.50 555.0V574.7M145.50 547.3V562.4M148.50 561.3V568.7M149.50 564.8V578.3M150.50 563.5V567.8M152.50 563.2V575.0M153.50 567.9V572.7M154.50 568.2V574.5M156.50 572.3V577.7M157.50 577.7V581.9M158.50 563.9V578.9M158.50 570.9V577.1M159.50 564.4V575.1M159.50 563.5V568.1M162.50 576.6V585.2M162.50 573.2V581.4M163.50 571.9V579.5M165.50 569.7V584.1M166.50 571.0V577.0M167.50 570.5V577.3M170.50 576.2V582.9M170.50 573.5V577.0M171.50 566.3V581.1M172.50 564.3V574.5M172.50 553.0V569.7M173.50 548.3V563.5M174.50 547.7V555.4M175.50 550.7V559.3M176.50 549.4V557.4M176.50 542.7V551.6M179.50 554.7V562.3M180.50 543.0V564.8M180.50 531.2V544.8M181.50 532.2V542.1M183.50 557.4V576.8M184.50 541.2V562.0M185.50 546.2V557.4M186.50 542.5V551.7M187.50 540.5V549.7M188.50 534.8V552.3M189.50 521.8V539.7M191.50 527.5V550.3M191.50 526.6V537.0M193.50 483.9V543.1M194.50 521.8V540.8M196.50 533.0V544.4M197.50 535.9V550.5M198.50 533.8V550.6M199.50 529.9V550.0M200.50 539.9V548.6M201.50 541.8V546.2M203.50 543.8V547.7M204.50 544.5V553.1M204.50 535.2V548.5M207.50 542.6V550.6M207.50 531.5V547.9M208.50 531.8V542.8M209.50 531.8V534.2M209.50 531.5V533.7M210.50 517.9V531.7M212.50 521.3V534.1M213.50 520.0V527.0M213.50 520.9V525.0M214.50 521.6V527.0M216.50 532.1V534.5M217.50 516.5V533.5M218.50 496.6V521.8M219.50 501.2V520.9M220.50 509.0V516.7M221.50 500.9V516.4M221.50 494.1V514.4M222.50 491.0V499.6M224.50 514.1V523.8M224.50 497.5V519.0M226.50 486.3V509.6M228.50 510.5V529.0M230.50 495.1V523.2M230.50 467.9V501.3M231.50 453.1V489.9M232.50 346.2V473.5M234.50 460.1V476.4M236.50 472.7V503.3M236.50 452.8V486.8M237.50 455.6V465.5M238.50 459.3V475.0M240.50 475.9V505.7M240.50 460.8V503.9M242.50 479.3V495.4M244.50 523.5V540.9M245.50 516.7V542.3M246.50 498.8V523.4M246.50 478.2V507.5M251.50 542.8V545.8M252.50 527.1V543.6M252.50 520.4V537.5M253.50 469.8V521.8M254.50 421.0V473.7M255.50 399.2V430.5M255.50 350.6V413.9M256.50 380.6V396.8M256.50 387.7V392.4M258.50 410.9V423.0M260.50 439.5V457.8M262.50 468.9V480.0M263.50 464.6V482.1M264.50 446.1V470.0M266.50 462.9V487.7M268.50 456.6V497.5M269.50 462.3V477.2M270.50 458.2V485.0M273.50 450.9V493.4M277.50 481.7V503.0M278.50 480.0V500.8M278.50 479.7V490.0M280.50 473.7V507.8M283.50 479.7V528.6M285.50 511.6V532.4M286.50 519.7V529.9M287.50 493.6V541.6M289.50 463.3V537.2M289.50 467.6V475.1M291.50 507.0V525.6M292.50 491.5V512.8M293.50 494.6V518.4M293.50 491.7V509.8M294.50 493.3V508.5M294.50 470.6V505.0M295.50 477.9V491.0M297.50 499.1V513.7M298.50 493.7V503.0M300.50 516.2V535.3M300.50 487.7V528.4M301.50 482.3V489.4M301.50 478.7V487.1M302.50 472.7V489.1M303.50 460.5V496.8M304.50 470.9V514.4M305.50 500.6V512.4M307.50 515.7V533.5M308.50 511.8V529.6M308.50 492.2V520.1M310.50 512.9V530.7M310.50 502.2V520.8M311.50 495.3V519.1M314.50 499.2V527.8M315.50 488.8V502.3M316.50 491.2V505.5M316.50 461.2V493.6M318.50 457.9V497.9M319.50 457.3V484.4M323.50 521.9V530.2M324.50 526.0V536.3M325.50 503.1V530.2M325.50 474.6V510.0M326.50 488.4V519.8M328.50 483.7V523.6M328.50 451.4V494.8M329.50 431.1V488.9M330.50 484.1V502.3M331.50 447.7V488.4M333.50 460.8V475.1M334.50 463.3V478.3M337.50 520.6V542.4M338.50 503.3V524.7M339.50 492.9V517.1M340.50 497.5V507.2M341.50 490.5V504.9M342.50 478.5V501.1M343.50 484.4V497.3M344.50 413.7V462.3M347.50 452.1V470.1M348.50 447.3V463.2M348.50 436.0V455.3M351.50 486.6V494.7M352.50 473.4V490.8M353.50 472.1V493.0M354.50 505.9V523.8M355.50 510.4V521.9M356.50 503.6V520.1M357.50 505.6V537.6M358.50 500.2V518.6M359.50 442.1V513.4M362.50 497.7V528.8M362.50 485.3V512.5M363.50 502.5V517.0M364.50 499.9V512.3M365.50 509.5V516.0M366.50 482.7V511.9M366.50 454.6V506.8M367.50 436.3V488.7M367.50 421.2V459.0M368.50 385.0V436.2M370.50 414.5V421.1M371.50 429.7V444.7M373.50 371.8V449.3M374.50 390.9V413.7M376.50 424.4V449.2M377.50 440.1V464.1M377.50 424.0V454.2M379.50 442.4V452.5M380.50 457.9V474.2M381.50 455.3V475.5M382.50 447.6V483.4M384.50 431.1V478.4M385.50 467.2V476.7M387.50 481.4V510.9M390.50 496.1V521.6M391.50 480.3V524.5M394.50 498.0V508.3M396.50 521.3V526.0M397.50 512.2V524.9M398.50 514.5V520.7M398.50 507.7V515.8M400.50 513.2V526.0M401.50 516.6V535.7M402.50 511.5V523.3M404.50 527.4V540.0M404.50 520.5V538.8M405.50 519.1V525.8M408.50 535.3V545.0M409.50 528.5V538.7M411.50 537.6V550.8M413.50 554.0V562.2M414.50 531.3V556.2M415.50 535.8V554.4M416.50 529.4V542.1M418.50 545.4V559.9M418.50 535.8V550.4M419.50 532.3V538.9M422.50 555.1V562.1M423.50 550.2V559.7M424.50 546.9V559.8M427.50 544.1V561.2M429.50 542.5V556.9M431.50 549.6V561.4M433.50 557.3V574.3M433.50 542.4V563.1M434.50 535.7V548.5M435.50 539.1V546.4M436.50 538.2V550.8M439.50 547.5V570.6M441.50 560.7V567.8M442.50 568.4V571.3M443.50 563.0V570.3M444.50 562.9V580.6M445.50 562.8V567.6M446.50 547.0V566.8M447.50 557.9V566.2M449.50 558.1V567.1M451.50 565.1V574.4M451.50 563.2V568.3M452.50 557.0V567.6M452.50 558.4V566.6M453.50 544.1V564.1M455.50 549.1V566.8M458.50 567.6V576.7M459.50 573.3V576.7M460.50 570.4V579.0M461.50 564.2V573.2M462.50 553.7V574.1M465.50 561.8V573.2M465.50 556.7V569.8M468.50 580.4V587.5M470.50 581.6V587.7M470.50 581.4V587.0M471.50 578.1V584.2M472.50 577.4V584.9M473.50 570.8V583.2M473.50 571.5V576.4M474.50 562.7V576.1M477.50 554.6V574.9M480.50 571.9V582.7M480.50 561.1V574.4M482.50 554.5V567.6M484.50 564.5V567.3M485.50 560.3V572.8M486.50 556.3V564.1M487.50 562.5V571.8M488.50 560.7V564.2M489.50 555.3V565.1M491.50 566.0V571.4M493.50 582.0V587.2M494.50 578.9V591.1M496.50 579.1V583.3M497.50 577.2V579.7M498.50 575.1V585.2M499.50 566.1V582.7M500.50 563.4V576.4M501.50 545.9V570.4M504.50 556.1V575.6M505.50 560.8V561.3M506.50 557.3V561.8M507.50 550.1V566.1M507.50 547.7V557.3M508.50 537.3V555.6M510.50 540.0V549.0M510.50 529.4V548.2M511.50 526.2V545.3M514.50 553.7V560.0M515.50 550.4V558.7M515.50 530.6V552.6M516.50 513.6V534.4M516.50 417.3V518.5M518.50 512.5V540.0M519.50 502.9V522.5M519.50 481.7V509.0M520.50 481.1V487.4M520.50 468.2V485.9M521.50 466.4V472.3M522.50 478.5V499.1M523.50 479.9V487.3M525.50 463.5V500.8M526.50 461.6V489.9M527.50 450.5V489.6M529.50 491.4V506.6M531.50 514.2V526.0M531.50 506.3V524.9M532.50 478.2V522.2M533.50 479.3V497.7M535.50 477.9V510.5M536.50 497.1V534.3M537.50 534.8V539.4M538.50 536.8V541.4M538.50 504.3V538.8M539.50 502.3V516.4M540.50 499.1V527.1M540.50 480.4V503.3M542.50 496.3V508.3M544.50 504.3V513.4M544.50 496.8V506.2M547.50 512.0V528.2M547.50 500.9V523.3M549.50 493.4V515.7M549.50 449.6V498.6M550.50 325.3V453.9M552.50 90.4V321.8M556.50 304.9V339.7M557.50 348.1V356.3M558.50 312.9V353.1M560.50 359.5V394.3M562.50 415.0V423.6M564.50 411.7V426.3M564.50 411.8V417.8M565.50 403.7V412.0M566.50 405.6V430.5M567.50 391.4V424.2M568.50 429.3V443.3M568.50 408.2V442.5M570.50 421.9V458.0M571.50 464.2V475.5M571.50 456.7V469.3M572.50 446.1V468.5M573.50 448.2V462.4M573.50 417.3V453.4M576.50 450.7V494.2M579.50 489.7V501.9M580.50 456.0V508.0M581.50 474.0V480.2M583.50 481.3V522.6M585.50 512.1V534.1M586.50 492.6V525.4M587.50 507.1V530.7M589.50 490.8V519.1M589.50 476.5V503.7M591.50 519.1V525.3M592.50 522.6V542.9M593.50 513.1V528.7M593.50 510.6V520.0M594.50 477.1V515.4M595.50 488.3V510.6M595.50 494.1V506.0M596.50 493.2V499.6M598.50 350.0V510.7M599.50 482.3V496.5M600.50 480.2V489.6M600.50 478.6V485.3M601.50 471.3V494.9M602.50 427.7V479.1M604.50 453.9V479.6M605.50 444.7V488.1M607.50 464.3V517.8M610.50 511.3V546.4M611.50 504.6V523.2M612.50 491.4V521.9M614.50 505.1V549.8M616.50 502.3V540.9M618.50 520.0V535.3M619.50 531.1V542.2M620.50 531.2V545.2M622.50 454.4V558.4M622.50 523.6V547.9M623.50 482.4V557.4M624.50 509.3V520.3M627.50 519.3V533.8M627.50 518.4V530.2M628.50 515.9V522.3M629.50 534.5V541.0M630.50 529.5V539.3M631.50 514.6V533.8M631.50 485.9V527.0M632.50 495.5V502.2M633.50 494.6V501.8M634.50 467.3V499.7M635.50 454.2V472.7M635.50 441.3V464.2M636.50 410.9V451.5M637.50 428.7V463.8M638.50 388.2V443.8M642.50 483.0V501.5M644.50 512.2V530.3M645.50 491.5V514.7M646.50 455.1V523.4M647.50 498.2V513.6M648.50 490.9V508.5M650.50 511.1V535.3M651.50 495.0V516.4M652.50 527.0V538.2M654.50 531.0V559.3M655.50 540.5V562.9M656.50 504.6V547.5M656.50 477.9V523.0M659.50 544.0V568.2M659.50 541.2V555.9M661.50 547.4V570.9M663.50 535.9V555.4M664.50 543.0V554.4M665.50 533.8V544.1M666.50 528.7V544.3M666.50 528.5V543.4M667.50 508.0V536.8M668.50 534.1V555.6M669.50 531.4V549.8M670.50 548.2V563.5M671.50 554.2V560.4M672.50 513.2V558.3M674.50 560.8V574.1M675.50 555.7V569.9M675.50 553.7V559.3M676.50 527.3V556.0M677.50 544.5V550.0M678.50 554.9V563.9M679.50 550.8V559.5M679.50 540.0V551.9M680.50 560.4V572.7M681.50 555.7V564.4M683.50 549.6V569.3M684.50 560.8V564.9M685.50 551.0V564.0M685.50 548.1V561.0M687.50 551.7V567.0M688.50 568.1V573.8M688.50 568.8V571.4M689.50 569.8V575.0M690.50 564.0V575.5M691.50 562.6V574.7M692.50 552.6V570.2M692.50 539.6V553.7M693.50 542.4V544.5M693.50 537.7V546.4M696.50 559.6V566.7M697.50 557.0V565.9M698.50 552.0V562.7M699.50 549.8V566.3M701.50 552.8V564.5M703.50 563.0V567.4M704.50 562.9V563.9M705.50 557.0V568.9M707.50 536.4V568.4M708.50 537.1V546.2M711.50 562.7V569.2M711.50 543.2V566.2M715.50 556.5V563.3M716.50 545.8V574.5M717.50 544.6V556.6M717.50 549.2V555.1M719.50 566.5V573.5M720.50 560.8V574.4M721.50 546.2V566.8M722.50 567.6V585.9M723.50 562.5V575.0M724.50 557.6V567.6M724.50 541.2V561.9M726.50 457.5V570.9M727.50 534.1V548.0M729.50 517.8V551.5M730.50 512.6V551.1M733.50 534.5V551.6M735.50 548.4V567.7M736.50 531.1V551.5M736.50 528.4V536.6M737.50 514.2V532.8M738.50 523.8V561.5M740.50 550.7V564.9M741.50 521.7V564.3M743.50 549.6V558.7M744.50 554.1V570.8M745.50 547.1V558.5M747.50 543.0V564.7M748.50 553.6V558.2M749.50 545.2V556.0M750.50 531.2V551.5M751.50 534.7V558.5M752.50 520.2V537.9M753.50 485.5V524.1M753.50 465.2V492.4M756.50 501.3V554.9M756.50 490.1V517.5M757.50 445.1V508.7M759.50 507.5V537.3M761.50 482.9V533.7M762.50 451.8V565.1M763.50 528.2V559.9M764.50 497.5V538.3M764.50 470.8V510.5M767.50 496.2V506.7M767.50 490.7V510.4M769.50 522.2V541.5M771.50 532.8V552.1M772.50 560.7V569.0M773.50 553.1V566.2M773.50 550.8V560.0M774.50 547.0V553.9M775.50 531.6V547.8M777.50 530.4V563.9M780.50 536.6V556.7M783.50 554.9V558.9M784.50 554.6V565.0M785.50 560.7V568.1M786.50 561.4V567.6M786.50 545.3V566.4M788.50 567.3V568.3M790.50 572.1V574.9M791.50 577.6V584.4M792.50 579.4V586.9M793.50 567.3V584.6M795.50 576.3V584.9M795.50 566.4V582.2M796.50 564.0V569.2M799.50 571.0V584.0M800.50 566.4V577.0M801.50 573.6V582.5M804.50 579.8V590.6M804.50 577.4V582.3M805.50 577.5V588.0M806.50 571.3V583.2M807.50 573.6V583.8M808.50 579.2V591.3M809.50 583.3V589.8M811.50 567.7V598.0M812.50 589.8V593.8M813.50 574.9V591.2M814.50 568.6V583.2M815.50 572.2V583.5M817.50 571.7V586.7M818.50 571.4V588.4M820.50 585.1V590.1M820.50 583.6V588.8M821.50 578.5V585.4M822.50 577.9V584.0M823.50 563.4V584.7M823.50 338.1V569.7M824.50 530.7V565.1M824.50 518.9V541.0M825.50 498.9V525.9M826.50 491.8V504.2M826.50 486.6V503.7M827.50 501.3V540.7M829.50 513.7V543.9M829.50 510.8V538.3M831.50 526.9V550.6M835.50 561.8V573.2M835.50 551.2V576.3M836.50 539.5V558.1M837.50 546.9V561.1M838.50 534.2V556.3M838.50 533.0V547.3M840.50 543.8V558.6M841.50 538.0V558.0M841.50 524.3V548.0M842.50 509.7V540.6M842.50 503.8V518.8M845.50 492.3V532.6M846.50 508.4V523.3M847.50 488.9V509.6M849.50 500.9V515.6M850.50 517.8V529.8M851.50 505.2V535.3M851.50 471.4V511.3M853.50 495.9V522.7M855.50 517.2V543.5M856.50 513.2V530.5M856.50 487.2V529.3M859.50 542.8V568.9M861.50 554.1V573.1M862.50 548.0V561.7M863.50 557.0V568.5M864.50 543.7V572.8M865.50 542.9V560.1M866.50 553.7V558.7M866.50 530.7V556.6M867.50 521.3V537.3M868.50 520.2V533.6M869.50 535.9V567.4M870.50 552.0V575.8M871.50 543.3V567.6M873.50 530.8V571.2M875.50 568.7V579.0M875.50 550.5V571.9M876.50 539.9V557.3M878.50 541.0V580.4M879.50 546.5V554.2M880.50 542.4V560.6M883.50 542.7V565.3M884.50 511.4V558.4M884.50 333.7V512.9M885.50 331.1V369.4M889.50 399.9V439.2M891.50 406.8V439.8M891.50 412.1V429.8M892.50 400.2V421.7M893.50 398.9V432.3M895.50 415.5V482.4M896.50 392.0V455.4M900.50 477.8V485.4M901.50 406.2V485.0M903.50 462.2V512.5M903.50 443.1V476.8M906.50 480.3V529.5M907.50 450.1V494.0M908.50 444.7V495.8M909.50 429.7V475.5M911.50 459.5V514.6M912.50 493.1V513.1M913.50 515.2V536.5M914.50 514.7V530.2M916.50 484.5V525.7M917.50 499.8V542.3M918.50 461.4V511.5M919.50 504.8V531.9M921.50 514.4V539.1M921.50 450.2V519.6M922.50 465.7V498.7M924.50 510.3V535.8M925.50 485.9V514.9M926.50 492.7V529.9M927.50 506.8V537.3M929.50 495.1V523.8M930.50 493.2V523.5M931.50 477.3V502.7M931.50 480.2V493.7M934.50 509.2V534.1M935.50 521.4V533.7M936.50 484.7V542.2M938.50 479.8V508.4M939.50 465.7V513.5M941.50 477.4V499.3M943.50 492.5V530.5M944.50 492.3V511.2M944.50 440.3V502.6M946.50 413.5V452.1M949.50 494.4V512.5M951.50 497.9V540.5M952.50 466.0V503.5M953.50 445.8V485.9M954.50 491.0V502.7M956.50 508.6V546.2M957.50 526.4V538.4M957.50 507.2V530.5M958.50 508.7V532.2M959.50 488.4V523.3M959.50 497.0V514.2M960.50 445.7V503.9M961.50 506.5V526.1M962.50 505.7V514.8M962.50 485.7V516.2M963.50 500.7V511.3M964.50 498.8V515.9M966.50 488.4V506.5M967.50 525.0V527.6M968.50 501.3V531.1M970.50 532.9V550.6M971.50 526.9V539.4M971.50 514.6V536.6M973.50 554.4V568.8M974.50 535.6V557.9M975.50 518.2V542.5M975.50 498.8V526.9M977.50 494.4V527.9M978.50 534.9V544.5M980.50 523.5V548.7M982.50 555.2V567.2M984.50 560.2V572.4M985.50 549.6V566.8M985.50 537.2V556.7M987.50 556.8V571.2M989.50 557.0V572.9M989.50 545.1V563.2M991.50 549.3V568.4M992.50 541.5V550.5M992.50 542.5V550.2M994.50 551.6V555.3M995.50 547.8V554.5M995.50 537.9V555.5M996.50 541.0V546.8M996.50 535.6V548.2M1000.50 531.1V564.0M1002.50 541.9V557.6M1003.50 552.3V558.3M1005.50 561.1V570.2M1006.50 556.2V573.0M1006.50 543.4V557.9M1007.50 540.0V554.0M1009.50 570.4V576.5M1010.50 575.0V579.5M1010.50 554.3V577.0M1012.50 556.6V579.1M1013.50 546.7V565.2M1014.50 504.5V541.3M1015.50 471.6V516.5M1017.50 511.5V531.6M1018.50 512.6V529.5M1019.50 540.6V544.4M1020.50 534.5V558.2M1022.50 539.0V562.4M1023.50 542.8V561.4M1024.50 526.4V552.3M1024.50 525.1V534.3M1026.50 514.1V545.2M1027.50 503.5V537.2M1027.50 501.0V513.7M1029.50 491.4V518.5M1030.50 484.8V508.3M1031.50 491.9V509.4M1031.50 485.8V500.8M1032.50 463.0V491.8M1033.50 413.5V446.0M1037.50 476.6V505.5M1038.50 508.7V523.4M1039.50 503.3V516.4M1040.50 536.1V546.3M1041.50 535.4V544.7" stroke="#5cbf52" stroke-width="1.25" fill="none"/>
<path d="M3.50 504.5V514.9M5.50 493.2V519.8M6.50 513.6V543.6M7.50 534.0V545.0M7.50 540.0V546.3M9.50 512.9V533.5M12.50 509.9V531.3M12.50 525.2V536.9M14.50 508.8V539.7M16.50 497.7V517.1M17.50 514.4V521.3M17.50 516.1V522.7M20.50 446.4V479.4M22.50 441.2V457.3M23.50 439.7V469.3M23.50 450.5V490.3M24.50 467.3V481.7M25.50 479.6V486.8M26.50 479.3V487.6M27.50 478.5V483.3M28.50 470.3V484.5M28.50 477.9V490.8M30.50 451.1V479.5M31.50 424.8V478.5M31.50 468.2V480.9M32.50 475.8V499.5M33.50 474.9V504.8M33.50 494.1V527.8M34.50 513.2V532.1M35.50 509.1V527.3M36.50 520.7V531.4M37.50 511.9V519.4M38.50 505.9V518.0M38.50 512.6V539.1M40.50 525.7V542.3M41.50 539.7V547.5M42.50 541.9V547.7M44.50 525.2V539.3M45.50 536.5V556.4M46.50 541.2V550.3M47.50 526.8V546.6M49.50 535.2V540.7M50.50 523.7V540.1M50.50 532.6V539.1M51.50 537.0V541.1M52.50 531.4V555.8M54.50 545.9V549.9M54.50 548.3V555.0M56.50 537.3V550.2M56.50 547.2V553.9M58.50 540.3V551.9M58.50 547.0V550.6M59.50 546.4V556.7M60.50 537.6V558.3M62.50 530.3V549.6M63.50 537.5V551.2M64.50 548.4V556.3M67.50 525.8V560.2M68.50 539.4V551.5M69.50 548.8V557.5M70.50 548.6V557.1M72.50 550.4V562.4M72.50 558.8V566.3M73.50 552.8V562.8M74.50 553.1V568.4M75.50 559.4V572.9M76.50 558.1V569.2M77.50 559.4V569.0M78.50 558.9V564.4M80.50 548.7V566.9M81.50 559.9V567.2M82.50 543.4V553.1M83.50 495.2V548.5M83.50 538.9V570.3M84.50 561.0V568.6M85.50 563.6V577.2M86.50 555.4V565.4M87.50 559.4V566.9M87.50 560.1V577.8M89.50 554.9V560.1M90.50 559.1V568.8M91.50 557.4V570.5M92.50 558.1V578.4M93.50 567.2V586.2M94.50 569.6V579.9M95.50 548.3V571.0M96.50 565.2V577.8M96.50 568.8V579.5M97.50 576.1V577.9M97.50 575.0V577.8M98.50 564.2V577.5M99.50 576.7V579.3M100.50 569.8V575.4M101.50 561.0V574.4M102.50 572.1V584.5M103.50 573.8V582.6M105.50 571.1V579.9M106.50 574.9V583.4M107.50 576.0V589.1M108.50 570.7V586.3M109.50 569.8V576.0M110.50 569.6V587.9M111.50 575.1V584.8M111.50 579.2V588.1M112.50 578.8V591.4M114.50 566.7V587.6M116.50 555.6V560.6M117.50 559.5V572.3M118.50 559.3V568.4M119.50 561.2V569.1M120.50 567.1V574.8M120.50 567.5V579.8M121.50 572.2V583.1M122.50 575.7V578.5M124.50 563.4V578.8M125.50 475.1V575.0M126.50 555.7V568.2M127.50 552.0V562.4M128.50 557.3V560.4M128.50 554.6V572.9M129.50 567.5V580.4M130.50 568.3V573.9M131.50 559.8V567.6M132.50 563.9V573.2M135.50 542.7V553.3M135.50 552.6V556.0M136.50 542.6V565.7M137.50 561.3V572.8M138.50 568.5V579.0M139.50 567.0V571.5M142.50 547.8V572.7M143.50 563.7V574.3M144.50 562.2V572.2M145.50 546.7V563.2M146.50 561.8V562.3M147.50 561.7V564.6M147.50 563.7V572.3M148.50 564.6V567.0M149.50 560.6V576.8M151.50 565.9V572.9M151.50 568.2V575.4M152.50 559.4V567.0M153.50 565.7V573.7M154.50 568.7V574.1M155.50 567.7V577.1M156.50 572.5V575.5M157.50 574.5V582.1M160.50 564.5V572.6M161.50 566.0V576.2M161.50 574.2V583.7M163.50 572.3V581.1M164.50 575.3V583.6M165.50 579.2V582.0M166.50 565.0V577.1M167.50 570.0V579.3M168.50 566.8V574.8M168.50 572.9V581.4M169.50 571.5V581.2M171.50 573.6V579.3M173.50 551.1V557.3M175.50 551.9V559.7M177.50 543.6V552.3M177.50 547.6V561.0M178.50 558.2V563.1M179.50 554.2V565.9M181.50 527.1V539.4M182.50 526.1V564.8M182.50 563.3V575.0M184.50 542.2V557.4M185.50 545.5V554.3M186.50 540.3V554.5M187.50 535.7V545.3M189.50 521.0V527.7M190.50 515.9V525.8M190.50 519.9V549.3M192.50 519.4V543.3M193.50 523.7V535.7M194.50 528.5V541.5M195.50 528.1V532.4M195.50 530.5V544.0M196.50 536.4V549.7M198.50 539.6V549.5M199.50 536.1V547.9M200.50 532.1V550.2M202.50 537.6V545.6M202.50 543.0V549.5M203.50 543.8V553.9M205.50 533.9V546.3M205.50 540.8V549.0M206.50 544.7V550.1M208.50 527.9V542.3M210.50 517.8V528.4M211.50 523.7V533.2M212.50 521.4V527.3M214.50 517.7V528.6M215.50 523.6V531.3M216.50 529.3V534.9M217.50 515.3V521.7M218.50 493.3V521.0M219.50 496.0V514.8M222.50 483.7V512.6M223.50 509.2V517.5M223.50 509.8V524.1M225.50 498.7V505.6M226.50 490.6V499.9M227.50 495.2V508.7M227.50 505.5V511.1M228.50 506.2V520.7M229.50 507.7V522.9M231.50 477.7V487.4M232.50 436.8V455.8M233.50 450.5V476.8M233.50 470.9V476.1M235.50 465.8V481.2M235.50 472.4V506.6M237.50 439.7V471.2M238.50 455.1V492.4M239.50 487.7V502.3M241.50 461.2V466.3M241.50 461.8V495.9M242.50 480.6V511.7M243.50 504.7V532.4M244.50 514.7V535.1M245.50 527.8V541.1M247.50 497.8V501.9M247.50 498.7V504.7M248.50 498.1V506.3M249.50 496.3V532.2M249.50 519.6V536.7M250.50 534.4V540.0M250.50 536.7V543.0M251.50 541.8V545.8M254.50 470.2V478.2M257.50 388.8V420.0M258.50 341.2V422.9M259.50 411.2V448.0M259.50 432.9V456.0M260.50 439.2V456.1M261.50 451.2V462.7M261.50 458.7V481.2M263.50 451.6V475.6M264.50 452.6V465.1M265.50 459.2V470.8M265.50 460.0V481.0M266.50 466.7V482.6M267.50 451.2V487.5M268.50 470.3V506.1M269.50 461.5V479.8M270.50 457.3V484.1M271.50 455.1V481.0M272.50 464.8V483.7M272.50 464.0V497.2M273.50 455.3V459.6M274.50 441.0V479.1M274.50 456.1V478.8M275.50 471.0V497.0M275.50 473.2V494.8M276.50 490.1V499.9M277.50 491.9V502.4M279.50 467.0V492.6M279.50 471.6V502.1M280.50 475.2V493.2M281.50 486.5V497.8M282.50 487.3V511.6M282.50 510.2V518.1M283.50 483.2V499.7M284.50 494.9V515.9M284.50 511.3V529.0M286.50 515.3V528.4M287.50 512.2V537.3M288.50 506.1V525.5M288.50 517.5V537.2M290.50 463.7V507.0M291.50 500.8V525.2M292.50 492.7V510.8M296.50 468.7V491.9M296.50 483.1V493.3M297.50 486.9V505.2M298.50 493.8V524.4M299.50 519.5V533.3M302.50 438.6V481.1M303.50 446.5V510.9M305.50 476.3V511.9M306.50 479.9V534.0M306.50 525.2V531.2M307.50 523.3V531.3M309.50 484.0V527.5M311.50 504.5V523.3M312.50 495.3V504.5M312.50 468.3V501.4M313.50 494.6V513.6M314.50 500.1V530.3M315.50 480.8V518.5M317.50 458.9V477.5M317.50 459.2V489.8M319.50 455.1V483.9M320.50 442.3V487.6M320.50 458.7V507.0M321.50 483.1V509.2M321.50 497.7V511.1M322.50 503.0V526.3M323.50 508.2V530.4M324.50 524.0V533.0M326.50 484.2V519.4M327.50 500.0V519.8M329.50 455.7V484.5M330.50 481.4V502.3M331.50 452.3V461.1M332.50 451.1V473.5M333.50 459.2V469.9M334.50 461.4V477.6M335.50 467.3V493.9M335.50 479.6V520.9M336.50 517.1V534.7M337.50 521.2V538.9M338.50 506.7V513.0M339.50 494.8V510.1M340.50 485.3V505.9M342.50 490.7V499.4M343.50 473.9V498.7M344.50 343.7V487.2M345.50 395.8V425.9M345.50 409.0V431.5M346.50 413.4V465.5M347.50 458.9V464.0M349.50 435.0V444.1M349.50 438.2V465.6M350.50 459.3V480.1M351.50 461.9V493.1M352.50 484.5V492.1M353.50 476.1V487.3M354.50 485.2V523.5M356.50 507.3V520.6M357.50 508.2V537.1M358.50 500.3V512.1M359.50 454.2V503.1M360.50 489.8V516.9M361.50 511.4V519.2M361.50 498.9V524.8M363.50 487.5V517.7M365.50 492.6V520.3M368.50 347.5V399.1M369.50 355.7V422.9M370.50 415.5V420.8M371.50 415.9V449.7M372.50 416.3V445.8M372.50 422.1V446.6M373.50 378.7V413.1M375.50 382.9V411.7M375.50 410.2V448.8M376.50 386.6V462.5M378.50 433.4V452.5M379.50 424.2V479.5M380.50 452.0V466.4M381.50 453.3V467.6M382.50 462.7V481.1M383.50 448.3V476.6M384.50 462.3V473.8M385.50 455.7V487.2M386.50 481.8V497.9M386.50 495.4V504.1M387.50 476.7V497.4M388.50 486.0V515.7M389.50 506.9V517.3M389.50 515.4V524.7M390.50 500.9V524.5M391.50 519.5V524.8M392.50 474.3V494.2M393.50 488.4V497.1M393.50 491.6V506.2M394.50 492.4V510.9M395.50 501.6V511.5M395.50 505.8V517.8M396.50 512.8V522.7M399.50 509.8V517.3M399.50 512.8V527.7M400.50 513.3V529.3M401.50 519.2V533.4M403.50 518.1V524.0M403.50 520.7V540.3M405.50 519.2V523.3M406.50 511.3V532.5M407.50 531.3V536.5M407.50 526.7V542.3M408.50 538.5V543.7M409.50 528.3V546.7M410.50 543.6V546.9M410.50 540.0V549.0M412.50 529.4V556.5M412.50 551.2V564.5M413.50 558.6V565.1M414.50 532.5V544.2M415.50 539.5V550.8M417.50 530.0V547.4M417.50 542.9V557.3M419.50 530.9V539.7M420.50 532.9V546.5M421.50 538.1V552.2M421.50 549.2V560.5M422.50 556.3V561.5M423.50 550.3V559.1M424.50 554.5V560.1M425.50 546.4V552.1M426.50 547.0V553.5M426.50 545.8V558.9M427.50 545.5V549.4M428.50 547.9V553.7M428.50 552.3V555.4M429.50 539.1V558.0M430.50 550.9V556.7M431.50 552.3V560.2M432.50 547.4V566.8M432.50 562.6V574.2M435.50 540.8V552.2M436.50 540.3V543.7M437.50 541.7V550.6M437.50 548.0V556.0M438.50 550.8V564.7M438.50 562.7V571.2M440.50 550.4V562.5M440.50 556.6V566.2M441.50 563.0V568.3M442.50 562.0V571.1M443.50 566.8V580.5M445.50 561.0V568.6M446.50 546.5V550.5M447.50 546.7V568.2M448.50 549.4V566.8M449.50 563.3V566.0M450.50 554.7V570.3M450.50 557.4V575.2M454.50 550.0V552.9M454.50 545.3V565.8M455.50 553.8V565.3M456.50 563.2V566.0M456.50 557.8V577.2M457.50 571.9V577.4M458.50 561.9V574.3M459.50 573.5V576.5M460.50 567.2V576.8M461.50 559.7V573.9M463.50 551.5V557.5M463.50 545.9V568.5M464.50 565.6V568.1M464.50 565.2V575.0M466.50 560.9V578.3M466.50 570.8V582.5M467.50 577.2V585.3M468.50 584.2V586.5M469.50 582.2V587.8M469.50 585.9V586.6M472.50 572.9V583.2M474.50 567.7V576.1M475.50 565.6V572.2M475.50 565.4V573.7M476.50 569.7V575.0M477.50 559.7V568.7M478.50 565.9V573.7M478.50 568.3V577.8M479.50 574.1V579.6M479.50 576.8V580.6M481.50 561.8V569.6M482.50 563.3V569.9M483.50 502.8V564.7M483.50 561.0V568.3M484.50 561.3V574.7M486.50 557.9V574.1M487.50 570.9V572.4M488.50 560.0V568.1M489.50 560.0V570.4M490.50 564.6V571.8M491.50 562.0V581.3M492.50 580.1V585.1M492.50 583.2V586.7M493.50 582.7V588.9M494.50 578.6V582.2M495.50 575.6V584.0M496.50 578.8V586.7M497.50 573.5V587.8M498.50 577.8V585.8M500.50 567.5V577.9M501.50 567.2V569.2M502.50 520.4V562.4M502.50 552.9V566.9M503.50 561.9V572.5M503.50 565.0V574.5M505.50 552.5V566.2M506.50 547.3V563.5M508.50 544.4V554.4M509.50 536.4V550.5M511.50 530.3V546.8M512.50 528.7V541.7M512.50 532.3V545.2M513.50 540.6V550.1M514.50 546.5V558.8M517.50 504.9V523.7M517.50 515.9V543.1M521.50 462.1V474.7M522.50 463.9V500.6M524.50 474.8V489.2M524.50 480.3V498.9M525.50 492.3V501.0M526.50 463.1V489.1M528.50 465.0V495.8M528.50 486.2V506.1M529.50 483.1V501.4M530.50 417.3V501.5M530.50 487.3V523.9M533.50 486.7V493.1M534.50 483.9V503.1M534.50 495.4V506.6M535.50 493.1V534.6M536.50 490.7V540.2M539.50 503.4V531.1M541.50 477.4V506.1M542.50 496.9V511.9M543.50 496.5V509.8M543.50 500.1V514.2M545.50 487.7V510.6M545.50 507.6V520.0M546.50 512.1V528.0M548.50 495.0V515.7M548.50 507.7V515.6M550.50 143.2V339.4M551.50 227.6V263.1M552.50 247.3V325.4M553.50 143.2V312.4M553.50 202.9V308.0M554.50 245.7V277.6M554.50 270.0V302.3M555.50 295.1V334.9M556.50 315.3V325.4M557.50 302.8V358.1M558.50 340.8V372.5M559.50 361.7V387.1M559.50 373.7V401.5M561.50 348.5V373.7M561.50 368.4V383.2M562.50 376.6V417.4M563.50 415.4V422.5M563.50 409.3V427.8M566.50 407.3V436.8M567.50 397.7V446.5M569.50 410.0V459.3M570.50 424.6V470.9M572.50 456.0V473.3M574.50 413.8V438.2M575.50 432.2V446.1M575.50 432.8V467.0M576.50 457.0V483.6M577.50 452.0V477.7M577.50 465.2V475.0M578.50 460.2V486.9M579.50 482.7V498.4M580.50 488.1V500.1M581.50 439.8V483.6M582.50 475.9V495.3M582.50 460.3V518.9M584.50 499.8V514.5M584.50 493.8V532.9M585.50 511.5V516.6M586.50 498.3V517.8M587.50 510.7V531.4M588.50 508.3V521.5M590.50 483.4V524.3M590.50 508.9V530.4M591.50 515.3V543.8M594.50 494.0V516.3M596.50 483.1V503.9M597.50 492.6V505.8M598.50 477.4V493.3M599.50 483.5V494.5M601.50 477.1V502.3M603.50 435.3V473.7M603.50 463.8V480.8M604.50 458.7V487.5M605.50 436.3V483.8M606.50 479.0V517.1M607.50 473.5V501.4M608.50 494.4V518.9M608.50 513.8V535.0M609.50 527.7V540.2M609.50 538.8V544.4M610.50 534.1V544.5M612.50 494.6V509.0M613.50 486.6V525.4M613.50 515.8V537.4M614.50 534.2V551.9M615.50 513.4V532.6M615.50 512.5V538.2M617.50 498.7V516.1M617.50 507.0V521.1M618.50 504.6V540.4M619.50 529.0V541.8M621.50 522.4V542.0M621.50 527.2V557.3M623.50 527.2V548.4M624.50 482.2V523.4M625.50 507.0V518.7M626.50 515.4V534.6M626.50 520.8V535.4M628.50 512.0V534.9M629.50 525.3V546.6M632.50 487.1V503.2M633.50 491.3V500.9M636.50 352.5V452.8M637.50 415.7V455.1M638.50 417.9V445.4M639.50 398.7V423.0M640.50 410.3V445.2M640.50 439.8V451.4M641.50 431.0V490.4M641.50 478.2V498.1M642.50 482.7V493.9M643.50 484.6V510.1M643.50 496.1V527.1M645.50 502.1V523.9M646.50 453.3V490.0M647.50 474.4V513.0M649.50 490.4V514.7M649.50 496.5V538.1M650.50 500.7V519.2M651.50 495.8V535.5M652.50 527.4V542.2M653.50 537.6V557.8M654.50 522.3V560.7M655.50 531.0V547.8M657.50 478.3V534.0M657.50 527.0V536.9M658.50 529.7V564.2M660.50 547.8V562.1M660.50 553.5V562.6M661.50 556.8V568.0M662.50 543.7V555.6M663.50 529.7V553.4M664.50 544.9V557.3M665.50 539.3V548.2M668.50 523.4V557.3M669.50 531.2V561.2M670.50 546.1V563.2M671.50 546.1V561.7M673.50 514.7V541.9M673.50 534.7V568.0M674.50 559.7V574.1M677.50 518.2V551.2M678.50 537.9V565.5M680.50 546.4V570.7M682.50 550.5V564.9M682.50 563.2V569.5M683.50 553.8V562.7M684.50 560.8V568.5M686.50 549.3V568.9M687.50 556.3V574.9M689.50 567.1V577.1M691.50 560.8V577.1M694.50 530.2V539.1M694.50 536.9V547.4M695.50 546.1V551.7M696.50 543.9V565.1M697.50 558.7V562.1M698.50 557.8V565.7M699.50 558.7V564.4M700.50 547.8V559.1M701.50 556.0V564.8M702.50 547.5V560.8M702.50 552.6V563.3M703.50 560.1V568.0M705.50 562.8V566.4M706.50 556.1V559.6M706.50 556.9V561.8M707.50 533.9V548.1M708.50 541.7V559.3M709.50 550.5V561.8M710.50 553.7V565.7M710.50 561.3V570.4M712.50 534.0V546.3M712.50 544.6V552.9M713.50 547.1V559.3M714.50 553.7V560.1M714.50 558.1V563.2M715.50 552.3V563.2M716.50 556.6V572.6M718.50 546.3V556.4M719.50 554.6V573.9M720.50 562.6V573.3M721.50 552.5V562.7M722.50 558.6V581.5M725.50 543.9V556.8M725.50 555.6V563.2M726.50 554.3V570.0M728.50 533.8V549.9M728.50 544.9V550.7M729.50 537.3V539.3M730.50 538.0V544.2M731.50 523.4V534.9M731.50 527.5V545.6M732.50 540.2V551.9M733.50 524.5V545.1M734.50 534.3V552.0M734.50 546.4V556.0M735.50 551.6V566.5M738.50 520.6V563.1M739.50 537.0V552.3M739.50 531.0V557.6M740.50 557.0V559.8M742.50 519.3V550.6M742.50 546.7V559.5M743.50 534.2V553.4M744.50 545.7V573.2M745.50 540.0V559.7M746.50 551.5V561.7M747.50 550.9V567.8M748.50 551.9V559.5M749.50 551.4V559.3M750.50 515.7V558.2M752.50 318.6V540.3M754.50 461.3V503.2M754.50 488.5V530.6M755.50 523.1V554.4M757.50 461.0V477.8M758.50 466.4V478.4M758.50 459.7V531.7M759.50 525.9V533.1M760.50 512.8V527.7M761.50 491.4V525.2M762.50 513.4V560.5M763.50 548.7V557.8M765.50 473.8V486.2M766.50 481.0V494.8M766.50 484.9V511.9M768.50 491.1V519.5M768.50 516.0V540.0M770.50 518.4V548.3M770.50 533.2V552.3M771.50 542.7V561.6M772.50 556.0V567.9M775.50 523.1V537.4M776.50 529.9V541.4M776.50 485.2V561.9M777.50 552.4V565.0M778.50 533.0V546.0M778.50 543.9V556.6M779.50 552.3V556.2M780.50 534.1V542.9M781.50 541.1V551.3M781.50 548.7V552.3M782.50 549.3V559.9M782.50 551.3V558.5M784.50 547.3V569.8M785.50 553.7V567.4M787.50 546.6V560.4M787.50 558.7V571.2M789.50 514.1V575.1M789.50 572.3V576.4M790.50 569.6V579.7M791.50 575.5V585.9M792.50 577.7V587.1M794.50 565.3V572.8M794.50 567.7V586.9M796.50 565.4V571.2M797.50 565.3V577.4M798.50 575.8V583.0M798.50 580.9V586.5M799.50 581.9V585.4M800.50 567.7V580.9M801.50 572.8V584.2M802.50 580.4V585.6M803.50 581.1V590.5M803.50 588.5V591.6M805.50 578.9V586.9M806.50 565.2V580.7M808.50 574.1V591.8M809.50 576.1V589.1M810.50 584.9V593.3M810.50 590.1V597.0M812.50 563.1V594.0M813.50 578.3V582.8M814.50 565.1V580.2M815.50 574.1V584.4M816.50 571.4V587.2M817.50 570.9V586.9M818.50 582.0V588.6M819.50 582.3V588.4M819.50 583.7V590.3M822.50 574.0V583.2M827.50 482.3V531.3M828.50 501.7V535.6M828.50 522.7V542.4M830.50 511.1V550.9M831.50 525.2V546.4M832.50 528.7V561.1M832.50 556.9V571.6M833.50 568.1V572.6M833.50 567.9V573.6M834.50 561.3V575.9M836.50 533.1V545.8M837.50 537.2V558.2M839.50 524.4V556.3M840.50 542.6V558.9M843.50 504.5V516.3M843.50 512.1V534.4M844.50 527.8V530.7M845.50 493.8V522.0M846.50 521.2V525.8M847.50 433.0V513.4M848.50 508.5V516.7M849.50 478.6V529.4M850.50 521.1V531.0M852.50 478.2V508.5M852.50 490.2V527.0M854.50 488.9V519.7M854.50 516.7V532.2M855.50 527.3V538.1M857.50 494.8V509.8M857.50 493.7V530.5M858.50 521.9V544.5M859.50 539.9V568.8M860.50 545.9V562.1M860.50 554.6V572.4M861.50 566.1V575.2M863.50 556.3V569.4M864.50 557.1V570.1M865.50 542.2V561.2M868.50 524.8V535.6M869.50 517.6V566.7M870.50 549.2V575.3M871.50 554.7V570.7M872.50 541.5V564.6M873.50 546.7V567.8M874.50 542.6V569.0M874.50 563.3V580.4M877.50 532.0V554.4M877.50 542.5V573.3M878.50 564.4V582.4M879.50 535.4V557.7M880.50 542.4V551.5M881.50 546.8V552.7M882.50 541.4V558.0M882.50 553.8V560.9M883.50 556.8V569.6M885.50 108.6V447.0M886.50 183.4V372.2M887.50 228.7V403.0M887.50 356.9V408.0M888.50 404.4V437.3M888.50 421.5V446.3M889.50 409.9V433.2M890.50 426.5V433.2M892.50 396.8V433.0M893.50 409.0V438.7M894.50 423.8V468.9M894.50 453.6V478.7M896.50 393.7V422.3M897.50 391.7V446.5M897.50 421.6V467.7M898.50 458.6V473.8M898.50 467.4V477.4M899.50 468.7V484.2M899.50 468.6V480.1M901.50 408.0V464.0M902.50 452.7V500.4M902.50 477.3V511.9M904.50 439.6V463.9M905.50 452.6V502.8M905.50 495.2V525.9M906.50 518.0V528.3M907.50 439.3V458.7M908.50 453.8V496.9M910.50 435.4V464.9M910.50 432.0V476.5M911.50 473.2V513.8M912.50 467.7V516.7M913.50 485.4V536.7M915.50 512.6V516.9M915.50 508.4V528.0M916.50 479.5V534.3M917.50 519.1V546.9M919.50 482.1V535.5M920.50 514.8V532.1M920.50 522.5V540.4M922.50 455.9V500.4M923.50 478.9V536.1M924.50 511.0V530.3M925.50 481.5V522.3M926.50 510.2V527.1M927.50 502.7V540.1M928.50 501.8V517.9M929.50 512.2V521.8M930.50 489.3V530.2M932.50 464.2V495.8M933.50 474.3V527.5M933.50 510.5V541.2M934.50 510.8V536.6M935.50 520.1V545.9M936.50 479.7V511.0M937.50 489.3V512.4M938.50 490.9V501.4M939.50 493.1V511.1M940.50 480.2V497.2M940.50 483.1V514.9M941.50 480.8V509.7M942.50 484.1V523.3M943.50 506.6V528.4M945.50 424.8V448.7M945.50 431.5V455.6M947.50 411.9V458.0M947.50 410.3V447.4M948.50 439.9V456.1M948.50 435.7V514.8M949.50 506.7V517.5M950.50 492.2V517.6M950.50 503.1V541.1M952.50 459.3V483.4M953.50 453.7V507.2M954.50 480.1V509.1M955.50 492.3V534.6M955.50 530.1V541.4M958.50 513.8V529.3M961.50 482.5V534.0M963.50 478.9V515.4M964.50 496.6V516.6M965.50 498.2V503.6M966.50 494.6V501.3M967.50 493.2V527.7M968.50 499.7V527.9M969.50 516.8V536.2M970.50 526.7V546.7M972.50 513.5V550.0M972.50 543.2V558.7M973.50 555.1V565.1M976.50 485.7V501.9M976.50 477.2V525.2M977.50 509.1V540.6M978.50 537.6V543.4M979.50 538.0V546.3M980.50 506.8V543.8M981.50 535.1V548.1M981.50 539.2V560.3M982.50 557.5V565.6M983.50 546.4V564.6M984.50 563.5V573.8M986.50 534.4V548.1M986.50 538.5V547.5M987.50 540.1V568.3M988.50 554.9V569.0M990.50 543.7V560.3M990.50 553.4V556.3M991.50 555.4V565.9M993.50 543.6V554.9M994.50 548.5V555.5M997.50 538.1V543.7M998.50 539.9V546.8M998.50 539.0V553.3M999.50 548.2V555.3M999.50 551.0V561.4M1000.50 526.0V540.2M1001.50 535.9V552.8M1001.50 546.6V558.5M1003.50 539.8V560.9M1004.50 551.7V559.7M1004.50 556.3V569.5M1005.50 561.2V571.8M1008.50 536.3V568.6M1008.50 558.3V571.8M1009.50 569.2V576.0M1011.50 557.7V571.5M1012.50 568.7V575.8M1013.50 543.3V559.7M1014.50 198.5V562.5M1015.50 489.5V521.2M1016.50 509.8V526.8M1017.50 516.9V529.0M1018.50 514.8V542.0M1019.50 530.8V553.8M1020.50 535.6V557.7M1021.50 548.7V564.7M1022.50 546.3V561.8M1023.50 554.4V562.0M1025.50 521.2V544.9M1026.50 518.5V535.3M1028.50 488.6V517.8M1028.50 500.7V512.5M1029.50 491.8V508.6M1032.50 284.0V465.6M1033.50 425.1V446.3M1034.50 433.3V471.7M1034.50 460.7V479.7M1035.50 473.6V488.3M1036.50 481.7V497.0M1036.50 496.1V500.8M1037.50 466.2V506.3M1038.50 502.4V524.0M1040.50 514.5V542.0M1041.50 534.3V543.8" stroke="#d9575a" stroke-width="1.25" fill="none"/>
</svg>
<div class="t" style="left:6px;top:612px;font-size:11px;color:#b8b8d0">Último tick: 09:54:17</div>
<svg class="abs" style="left:1055px;top:593px" width="14" height="13"><rect x="1.5" y="0.5" width="11" height="11" fill="none" stroke="#222" stroke-width="1"/><text x="7" y="10.2" font-family="Liberation Serif" font-weight="bold" font-size="12" text-anchor="middle" fill="#222">i</text></svg>

<div class="yl" style="top:581.0px">10</div><div class="yl" style="top:518.1px">20</div><div class="yl" style="top:455.3px">30</div><div class="yl" style="top:392.4px">40</div><div class="yl" style="top:329.6px">50</div><div class="yl" style="top:266.7px">60</div><div class="yl" style="top:203.9px">70</div><div class="yl" style="top:141.0px">80</div><div class="yl" style="top:78.1px">90</div>
<div class="tag" style="top:502px;width:37px;background:#fbfbfb;border:1px solid #e2e2e2;color:#d05a66;line-height:14px">22,51</div>
<div class="tag" style="top:534px;width:38px;background:#f7c51b;border:1px solid #e8b400">17,38</div>
<div class="tag" style="top:551px;width:50px;background:#3dba3d;border:1px solid #2e9e2e">12h20m</div>

<!-- toolbar -->
<div class="btn" style="left:7px;top:45px;width:23px;height:28px"></div>
<svg class="abs" style="left:0;top:40px" width="40" height="40"><path d="M15.8 17.8V15.8A2.6 2.4 0 0 1 21 15.8V17.8" fill="none" stroke="#8c8c8c" stroke-width="2.1"/><path d="M15.8 20.1V22.1A2.6 2.4 0 0 0 21 22.1V20.1" fill="none" stroke="#8c8c8c" stroke-width="2.1"/></svg>
<div class="btn" style="left:35px;top:45px;width:60px;height:28px"></div>
<div class="t" style="left:46px;top:51px;font-size:15px;color:#333">1 S</div>
<svg class="abs" style="left:76px;top:56px" width="9" height="6"><polyline points="1,1 4.5,4.5 8,1" fill="none" stroke="#333" stroke-width="1.25"/></svg>
<div class="btn" style="left:100px;top:45px;width:28px;height:28px"></div>
<svg class="abs" style="left:100px;top:45px" width="28" height="28"><path d="M6.1 9.7C9 9.2 12 10.5 15 12.5S19.5 14.2 21.5 14.5" fill="none" stroke="#444" stroke-width="1"/><path d="M6.1 14.3C7.3 10 8.5 6.5 9.8 6.5C12 6.5 13.5 15.4 16.6 15.4C18.5 15.4 20 12 21.5 9.4" fill="none" stroke="#333" stroke-width="1.2"/><path d="M9 8.5C11 9 12.5 10 14 11.5C13 9 11 6.8 9.8 6.6Z" fill="#bbb"/><path d="M15 12.5C16 14 17 15 16.6 15.3C15.5 15 15 14 14.5 12.5Z" fill="#bbb"/><path d="M5.8 21.6H21.8" stroke="#333" stroke-width="1.3"/><path d="M6.8 21.6V19.6A1 1 0 0 1 8.8 19.6V21.6" fill="none" stroke="#333" stroke-width="1.1"/><path d="M10.6 21.6V18.2A1 1 0 0 1 12.6 18.2V21.6" fill="none" stroke="#333" stroke-width="1.1"/><path d="M14.6 21.6V18.2A1 1 0 0 1 16.6 18.2V21.6" fill="none" stroke="#333" stroke-width="1.1"/><path d="M18.6 21.6V18.2A1 1 0 0 1 20.6 18.2V21.6" fill="none" stroke="#333" stroke-width="1.1"/></svg>
<svg class="abs" style="left:139px;top:52px" width="13" height="13"><rect x="0.5" y="0.5" width="11" height="11" fill="none" stroke="#222" stroke-width="1"/><text x="6.2" y="10.2" font-family="Liberation Serif" font-weight="bold" font-size="12" text-anchor="middle" fill="#222">i</text></svg>
<div class="t" style="left:157px;top:53px;font-size:11px;color:#444">PRT US VOLATILITY INDEX</div>
<div class="t" style="left:303px;top:53px;font-size:11px;color:#3a9a3a">17,38</div>
<div class="abs" style="left:336px;top:48px;width:44px;height:20px;background:#52c452;border:1px solid #3fae3f;border-radius:3px;color:#fff;font-size:11px;line-height:18px;text-align:center">0.17 %</div>

<div class="abs" style="left:2px;top:74px;width:156px;height:22px;background:#fff"></div>
<div class="chip" style="left:7px;top:75px;width:51px;height:19px"></div>
<div class="abs" style="left:10px;top:80px;width:10px;height:10px;border-radius:2px;background:linear-gradient(90deg,#55bb55 50%,#d9534f 50%)"></div>
<div class="t" style="left:24px;top:80px;font-size:11px;color:#333">Precio</div>
<div class="chip" style="left:63px;top:75px;width:68px;height:19px"></div>
<div class="abs" style="left:67px;top:80px;width:10px;height:10px;border-radius:2px;background:#d9545c"></div>
<div class="t" style="left:81px;top:80px;font-size:11px;color:#333">SMA (20)</div>
<div class="chip" style="left:136px;top:75px;width:20px;height:19px"></div>
<svg class="abs" style="left:140px;top:80px" width="12" height="10"><rect x="1" y="1" width="2" height="2" fill="#333"/><rect x="1" y="4" width="2" height="2" fill="#333"/><rect x="1" y="7" width="2" height="2" fill="#333"/><rect x="4" y="1.3" width="7" height="1.4" fill="#333"/><rect x="4" y="4.3" width="7" height="1.4" fill="#333"/><rect x="4" y="7.3" width="7" height="1.4" fill="#333"/></svg>

<div class="circ" style="left:1085px;top:46px"></div>
<svg class="abs" style="left:1090px;top:51px" width="14" height="14"><path d="M2.9 10.9L7.5 6.3" stroke="#2a2a2a" stroke-width="2.6" stroke-linecap="round"/><circle cx="8.3" cy="5.5" r="3.7" fill="#2a2a2a"/><path d="M8.9 4.9L13 0.8" stroke="#f5f5f5" stroke-width="2.3"/></svg>
<div class="circ" style="left:1114px;top:46px"></div>
<svg class="abs" style="left:1119px;top:51px" width="14" height="14"><rect x="2.7" y="2.8" width="9.2" height="9" rx="0.6" fill="none" stroke="#2a2a2a" stroke-width="1.4"/><rect x="2" y="2.1" width="10.6" height="2.6" fill="#2a2a2a"/></svg>
<div class="t" style="left:972px;top:79px;font-size:16px;line-height:19px;padding:0 1px;color:#b9b9b9;background:#fff">PRT US Volatility Index</div>

<!-- footer -->
<svg class="abs" style="left:7px;top:626px" width="15" height="17"><line x1="2" y1="5" x2="2" y2="16" stroke="#222" stroke-width="1"/><rect x="0.8" y="8" width="2.6" height="5" fill="#222"/><line x1="7" y1="3" x2="7" y2="13" stroke="#222" stroke-width="1"/><rect x="5.8" y="6" width="2.6" height="4" fill="#fff" stroke="#222" stroke-width="0.9"/><line x1="12" y1="1" x2="12" y2="11" stroke="#222" stroke-width="1"/><rect x="10.8" y="3" width="2.6" height="5" fill="#fff" stroke="#222" stroke-width="0.9"/></svg>
<div class="t" style="left:26px;top:630px;font-size:11px;color:#333">ProRealTime</div>
<svg class="abs" style="left:95px;top:629px" width="13" height="13"><circle cx="5.5" cy="5.5" r="4.9" fill="#6a9a28" stroke="#2a3a20" stroke-width="0.9"/><circle cx="8.8" cy="9" r="2.5" fill="#3b82d6" stroke="#111a30" stroke-width="1"/></svg>
<div class="t" style="left:110px;top:630px;font-size:10px;color:#3a8fd5">Diferido de 15 min</div>

<div class="abs" style="left:2px;top:649px;width:1196px;height:1px;background:#d8d8d8"></div>
<div class="abs" style="left:2px;top:650px;width:1196px;height:25px;background:#fbfbfb"></div>
<div class="btn" style="left:6px;top:653px;width:20px;height:20px;background:#fff"></div>
<svg class="abs" style="left:10px;top:656px" width="13" height="13"><rect x="4" y="1" width="8" height="6" rx="1" fill="none" stroke="#222" stroke-width="1.4"/><rect x="1" y="5" width="8" height="6.5" rx="1" fill="#fff" stroke="#222" stroke-width="1.4"/><line x1="1" y1="7" x2="9" y2="7" stroke="#222" stroke-width="1.4"/><line x1="4" y1="3" x2="12" y2="3" stroke="#222" stroke-width="1.4"/></svg>
<div class="chip" style="left:35px;top:653px;width:74px;height:20px"></div>
<div class="abs" style="left:39px;top:658px;width:10px;height:10px;border-radius:2px;background:linear-gradient(90deg,#55bb55 50%,#d9534f 50%)"></div>
<div class="t" style="left:53px;top:658px;font-size:11px;color:#333">Volumen <span style="color:#5cc05c">0</span></div>
<div class="chip" style="left:117px;top:653px;width:27px;height:20px"></div>
<div class="t" style="left:121px;top:657px;font-size:11px;color:#333">...</div>
<svg class="abs" style="left:132px;top:659px" width="8" height="6"><polyline points="1,1 4,4 7,1" fill="none" stroke="#222" stroke-width="1.4"/></svg>

<div class="abs" style="left:2px;top:675px;width:1196px;height:1px;background:#d8d8d8"></div>
<div class="abs" style="left:2px;top:676px;width:1196px;height:17px;background:#fafafa"></div>
<div class="abs" style="left:2px;top:692px;width:1196px;height:1px;background:#d8d8d8"></div>
<div class="xt" style="left:61.6px"></div><div class="xt" style="left:120.1px"></div><div class="xt" style="left:178.5px"></div><div class="xt" style="left:237.0px"></div><div class="xt" style="left:295.4px"></div><div class="xt" style="left:353.9px"></div><div class="xt" style="left:412.4px"></div><div class="xt" style="left:470.8px"></div><div class="xt" style="left:529.3px"></div><div class="xt" style="left:587.7px"></div><div class="xt" style="left:646.2px"></div><div class="xt" style="left:704.7px"></div><div class="xt" style="left:763.1px"></div><div class="xt" style="left:821.6px"></div><div class="xt" style="left:880.0px"></div><div class="xt" style="left:938.5px"></div><div class="xt" style="left:997.0px"></div><div class="xt" style="left:1055.4px"></div><div class="xt" style="left:1113.9px"></div><div class="xt" style="left:1172.3px"></div>
<div class="xl" style="left:41.6px">1992</div><div class="xl" style="left:100.1px">1994</div><div class="xl" style="left:158.5px">1996</div><div class="xl" style="left:217.0px">1998</div><div class="xl" style="left:275.4px">2000</div><div class="xl" style="left:333.9px">2002</div><div class="xl" style="left:392.4px">2004</div><div class="xl" style="left:450.8px">2006</div><div class="xl" style="left:509.3px">2008</div><div class="xl" style="left:567.7px">2010</div><div class="xl" style="left:626.2px">2012</div><div class="xl" style="left:684.7px">2014</div><div class="xl" style="left:743.1px">2016</div><div class="xl" style="left:801.6px">2018</div><div class="xl" style="left:860.0px">2020</div><div class="xl" style="left:918.5px">2022</div><div class="xl" style="left:977.0px">2024</div><div class="xl" style="left:1035.4px">2026</div><div class="xl" style="left:1093.9px">2028</div><div class="xl" style="left:1152.3px">2030</div>
</body></html>
